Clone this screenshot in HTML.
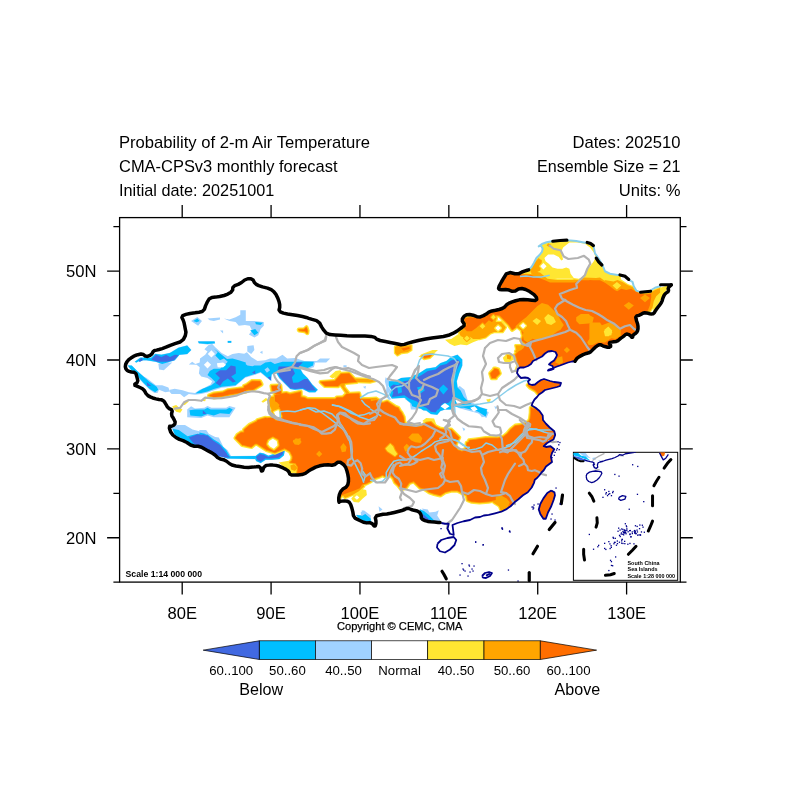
<!DOCTYPE html>
<html><head><meta charset="utf-8"><title>Probability of 2-m Air Temperature</title>
<style>html,body{margin:0;padding:0;background:#fff;width:800px;height:800px;overflow:hidden}</style></head>
<body>
<svg width="800" height="800" viewBox="0 0 800 800" style="position:absolute;left:0;top:0;font-family:'Liberation Sans',sans-serif">
<rect width="800" height="800" fill="#fff"/>
<defs><clipPath id="land">
<path d="M125,365.62 L127.5,360.62 L132.5,356.88 L136.25,355 L142.5,353.75 L146.25,356.88 L151.25,355 L153.75,350.62 L157.5,350 L163.75,348.12 L172.5,344.38 L182.5,341.25 L186.25,333.75 L185,327.5 L183.75,321.25 L181.25,316.25 L187.5,313.75 L197.5,312.5 L203.75,311.25 L206.25,303.75 L210,297.5 L217.5,297 L226.25,295 L232.5,291.25 L233,286.25 L240,283.75 L246.25,278.75 L252.5,278.75 L255,283.75 L260,286.25 L270,288.75 L275,292.5 L278.75,300 L280,306.25 L278.75,311.25 L285,313.75 L295,315 L305,317 L310,318.75 L318.75,321.25 L322.5,328.75 L327.5,334.5 L337.5,335 L350,336 L362,336 L374,336.5 L377.5,340 L388,342 L396.25,343.75 L402.5,345 L410,342.5 L422.5,339.5 L435,337.5 L446.25,336.25 L455,332.5 L461.25,328 L465,325 L461.5,320 L465,315 L471.25,314.4 L478.75,317.5 L485,315 L490,311.25 L497.5,310 L503.75,308 L507.5,303.75 L513.75,301.25 L521.25,299.4 L530,300 L536.9,300.6 L536.25,296.25 L527.5,290 L520,288 L513.75,291.9 L507.5,289.4 L500,290 L498.1,288 L502.5,280 L507.5,271.9 L517.5,274.4 L523,271.5 L528.6,269.8 L528.6,269.8 L531.7,266.7 L534,262.8 L536.4,258 L539.5,255 L541.9,251.9 L542.7,248.75 L541,245.6 L538.75,246.4 L541.9,244 L546.6,242.2 L552,241.25 L552.8,241.25 L566.9,240.2 L567.7,240.3 L576.25,241 L582.5,242.2 L585.6,242.8 L587.2,242.5 L593.4,245.6 L593.75,247.2 L595,253.4 L596.25,255 L598.75,258.75 L602.5,265 L605,271.25 L610,273.75 L617.5,275 L620,275 L625,276.25 L628.75,279.4 L630,280.6 L632.5,281.9 L633.75,286.25 L636.25,290.6 L640,291.9 L640.6,292.25 L650.6,291.25 L651.25,290 L655,287.75 L660,286.25 L660.6,284.75 L671.25,284.75 L671.25,285 L668,287.75 L668.75,291.25 L665,293.75 L663,297.5 L661.9,301.9 L658.75,306.25 L656.25,309.4 L653.75,313.75 L650.6,314 L647.5,313 L643.75,312.75 L640,315 L635.6,316.25 L636.25,320 L638,325 L638,330 L636.25,333 L633,335 L632.5,338 L630,335 L626.25,333.75 L623.75,336.25 L620,338.75 L617.5,341.25 L612.5,342 L608.75,342.5 L611.25,346.25 L608.75,347.5 L603.75,346.25 L600,344.4 L596.25,346.25 L592.5,350 L590,352.5 L585,353.75 L577.5,357.5 L575,361.25 L572,361.5 L568,362.5 L564,364 L560,365.5 L557,366.5 L554.5,367.5 L552,368.5 L549,369.5 L548,370.5 L551,369.8 L553.5,368.8 L552.5,366 L549,364.5 L551,362.5 L554,360.5 L556,357.5 L557,355 L555.5,352 L552,351 L548,351.5 L545,353.5 L542,356.5 L539,358 L536,359.5 L533,361 L531,364 L528,366 L524,367.5 L520,367.5 L518,369 L517,373 L519,376 L521,378 L525,377.5 L528,378 L530,379.5 L528,381.5 L529,384 L532,385 L535,384.5 L538,382 L541,380 L544,379 L547,380 L550,381 L554,382 L558,382.5 L561,383 L560,386 L557,387 L553,388 L549,389 L545,390 L542,392.5 L539,394.5 L537,397 L534.5,399.5 L532.5,403 L531.7,405.5 L535.6,407.8 L539.5,411 L542.7,415.6 L543,420 L546,423.75 L549.75,427.5 L554.25,431.25 L555.2,435 L553.5,439.5 L550.5,441 L546.75,443.25 L543.75,446.25 L546,447 L550.5,446.25 L554.25,449.25 L552,453 L550.9,456.75 L552,462 L549,464.25 L546,466.5 L543.75,470.25 L541.5,472.5 L539.25,475.5 L537,478 L534.8,479.7 L534,482.8 L531.7,487.5 L527.8,492.2 L523,495.3 L518.4,499.2 L514.5,502.3 L510.6,506.25 L506,509.4 L501.25,511.7 L495,513.3 L488.75,514.8 L483.75,515.5 L480,517 L475,517.5 L470,520 L463.75,521.25 L457.5,523 L452.5,525 L453.75,535 L450,533.75 L447.5,528.75 L448.75,523.75 L445,523.75 L441.25,523 L440,522.5 L432.5,522 L426.25,521.25 L421.25,518.75 L421.25,515 L418.75,511.25 L412.5,510 L407.5,508 L403.75,510 L396.25,512 L388.75,513.75 L381.25,514.5 L375,516.25 L376.25,522.5 L375,527 L371.25,522.5 L365,523 L358.75,520 L353.75,517.5 L352.5,510 L350,502.5 L346.25,500.75 L340,501.25 L338.75,502.5 L338.75,496.25 L341.25,490 L347.5,486.25 L348.75,480 L347.5,472.5 L345,465.5 L338.75,461.25 L333.75,465.5 L326.25,464.5 L317.5,466.25 L310,470 L303.75,474.5 L296.25,475 L290,475 L288.75,471.25 L285,468.75 L277.5,465.5 L271.25,465 L264.5,465.5 L262,472.5 L260,466.25 L255,467 L246.25,467.5 L237.5,466.25 L231.25,465 L225,460 L218.75,458.75 L213.75,453.75 L206.25,450 L200,446.25 L192.5,446.25 L185,441.25 L177.5,438.75 L171.25,433.75 L168.75,426.25 L172.5,426.25 L175.62,423.12 L173.75,418.75 L171.25,415 L172.5,410 L168.12,408.12 L165.62,403.75 L163.12,400 L157.5,399.38 L151.25,397.5 L146.88,395 L143.75,389.38 L138.75,386.88 L133.75,385 L138.12,381.88 L136.88,376.88 L135.62,372.5 L130,371.88 L126.25,370 L125,365.62Z"/>
<path d="M437.5,543.75 L441.25,540 L447.5,538 L453.75,537 L456.25,540 L454.5,545 L450,549.5 L445,552.5 L440,551.25 L437,547.5Z"/>
<path d="M551.25,490.6 L554.4,492.2 L555,495.3 L553.6,500 L551.25,506.25 L548,512.5 L545.8,518.75 L543.4,518.75 L540.3,514 L538.75,509.4 L540.3,504 L543.4,498.4 L547.3,493Z"/>
</clipPath>
<clipPath id="frame"><rect x="119.6" y="217.6" width="560.6999999999999" height="364.5"/></clipPath>
<clipPath id="inset"><rect x="573.4" y="452.3" width="104.30000000000007" height="127.99999999999994"/></clipPath>
</defs>
<g clip-path="url(#frame)">
<g clip-path="url(#land)" shape-rendering="auto">
<path d="M209.8,320.3 L213.8,321.1 L220.0,319.5 L220.0,317.5 L207.5,318.4ZM191.1,321.1 L198.1,325.8 L202.0,321.1 L197.3,316.9ZM223.1,333.6 L223.1,330.5 L220.0,330.5ZM198.8,343.5 L207.5,344.4 L211.8,343.9 L208.3,345.3 L204.4,349.2 L207.5,351.6 L205.2,354.7 L200.0,358.6 L199.7,362.5 L195.3,364.1 L192.2,361.7 L188.8,364.4 L196.6,364.8 L199.7,367.2 L198.9,373.4 L201.2,376.6 L207.5,378.1 L212.2,381.2 L210.6,384.4 L205.5,387.3 L199.7,389.8 L195.0,393.0 L188.8,392.2 L182.5,390.3 L174.7,388.8 L170.0,389.8 L169.8,391.0 L168.4,387.5 L162.2,385.2 L155.9,385.2 L146.6,378.1 L143.8,376.4 L137.4,370.9 L131.9,365.4 L127.8,365.3 L127.5,365.7 L130.7,369.7 L137.0,376.0 L138.5,377.7 L138.4,378.1 L143.4,383.6 L149.7,389.8 L154.4,393.0 L157.5,393.0 L159.1,389.8 L165.3,392.2 L169.8,391.4 L169.7,391.9 L171.6,394.1 L180.2,394.1 L184.1,397.2 L188.8,394.1 L195.0,394.8 L201.2,394.1 L207.5,392.5 L221.6,387.8 L229.4,387.0 L235.6,385.9 L245.2,377.8 L254.4,375.0 L260.6,372.7 L266.9,378.1 L271.6,381.2 L271.6,376.6 L271.8,374.9 L273.0,374.1 L276.1,373.0 L279.1,378.3 L290.2,389.3 L295.0,390.1 L302.8,389.4 L309.0,392.5 L315.4,392.5 L317.9,390.0 L317.9,389.7 L312.4,384.2 L307.7,377.9 L303.1,373.3 L300.5,368.8 L307.5,368.8 L313.8,367.2 L315.3,362.5 L326.2,362.5 L330.2,358.6 L320.0,358.6 L316.9,360.9 L304.4,360.9 L295.0,358.1 L287.2,358.6 L282.5,354.7 L276.2,358.6 L270.0,358.6 L265.3,360.2 L257.5,360.9 L251.2,357.0 L246.9,352.3 L244.2,353.7 L238.8,353.1 L232.5,353.9 L227.8,356.2 L221.6,353.1 L215.0,346.9 L212.3,343.9 L215.2,343.5 L214.6,341.1 L198.0,341.1 L197.8,341.5ZM207.8,353.9 L211.4,350.3 L215.0,353.9 L211.4,357.5ZM207.5,368.4 L203.9,364.8 L207.5,361.2 L211.1,364.8ZM223.1,367.5 L217.7,367.2 L216.9,363.3 L223.1,362.5 L226.2,364.8ZM174.9,360.4 L179.5,355.0 L187.3,354.2 L191.3,350.2 L191.4,349.8 L187.4,345.4 L187.1,345.3 L178.5,347.4 L169.9,352.8 L161.4,354.4 L155.1,353.6 L151.1,357.5 L140.2,357.5 L134.5,361.7 L136.4,362.8 L139.0,361.3 L139.6,362.0 L142.7,360.5 L146.5,360.5 L155.9,362.0 L159.9,363.5 L158.3,363.8 L159.1,369.5 L163.8,370.3 L172.3,362.5 L167.9,362.5ZM229.4,417.2 L235.6,407.8 L229.4,405.9 L226.2,407.8 L211.4,407.8 L207.5,405.9 L204.4,407.8 L195.0,408.6 L191.1,406.2 L187.2,409.4 L187.2,417.2 L201.2,418.0 L207.5,415.6 L213.8,417.2ZM174.7,435.1 L176.9,436.5 L177.5,437.5 L192.5,446.2 L220.0,457.0 L222.2,457.0 L227.5,458.8 L255.1,459.3 L256.1,461.2 L260.7,463.3 L265.7,460.1 L271.6,460.1 L279.5,459.3 L284.0,455.6 L285.1,450.3 L285.0,450.0 L281.2,448.2 L277.9,451.6 L273.0,453.9 L268.5,455.5 L263.9,453.2 L259.8,452.5 L255.6,455.7 L231.1,455.9 L227.5,450.0 L223.4,446.7 L218.8,437.5 L215.2,437.0 L208.8,433.8 L206.2,430.0 L199.4,430.0 L199.4,431.2 L192.5,429.5 L185.0,425.0 L177.5,425.0 L171.2,427.5 L172.4,429.4ZM250.4,330.2 L250.2,330.6 L251.1,331.7 L248.9,334.4 L254.4,337.5 L258.3,335.2 L260.6,328.9 L263.8,325.8 L263.8,321.9 L254.4,321.1 L245.8,321.1 L245.8,310.2 L240.3,310.2 L240.3,314.8 L235.6,317.2 L229.4,319.5 L223.9,318.4 L229.4,321.1 L235.6,321.9 L238.8,325.8 L244.9,325.1 L249.7,325.8 L251.7,329.8ZM231.4,342.9 L231.6,341.1 L231.4,340.8 L227.8,340.8 L227.5,341.0 L227.7,342.9ZM251.2,353.9 L254.4,350.0 L253.6,345.3 L247.3,346.1 L247.3,351.6ZM262.5,353.9 L262.5,350.8 L259.8,352.3ZM346.6,366.9 L346.6,365.3 L343.4,365.3 L343.4,366.9ZM365.3,389.1 L366.1,385.9 L363.0,386.7ZM366.1,524.0 L367.4,525.3 L373.7,526.5 L374.0,526.3 L373.4,523.0 L372.3,522.5 L372.1,521.7 L371.1,521.2 L371.2,521.2 L371.1,518.7 L370.8,518.4 L370.8,515.6 L363.8,510.2 L363.0,510.7 L361.9,510.0 L361.7,511.7 L360.6,512.5 L361.2,515.3 L356.3,514.7 L356.0,515.1 L359.8,520.2ZM416.9,409.4 L416.1,407.9 L421.0,408.9 L423.1,410.4 L426.2,410.9 L430.8,414.3 L437.2,415.1 L440.5,411.2 L445.0,409.7 L451.3,409.7 L454.5,406.6 L457.5,407.3 L457.5,407.8 L477.8,413.3 L480.4,414.7 L479.4,414.8 L481.0,415.8 L481.7,417.2 L482.9,417.0 L483.3,417.2 L483.4,416.9 L484.1,416.7 L486.4,418.0 L488.8,412.5 L488.4,412.3 L488.8,411.7 L488.1,412.1 L486.8,410.9 L487.5,409.5 L487.3,409.1 L480.8,407.2 L467.7,400.0 L464.5,389.8 L459.8,385.9 L457.8,387.3 L457.0,381.3 L459.3,373.5 L462.5,365.7 L462.5,359.4 L457.5,354.4 L451.1,356.8 L446.4,360.7 L440.2,363.0 L435.5,366.9 L426.1,368.5 L419.9,372.4 L410.5,377.0 L401.2,377.8 L394.9,380.9 L389.4,380.9 L389.5,380.5 L385.6,377.3 L384.8,381.2 L386.4,387.5 L385.6,395.3 L388.8,400.0 L391.1,399.2 L387.5,393.8 L391.1,390.6 L388.0,385.9 L388.4,384.3 L388.5,386.1 L391.5,390.6 L388.5,393.8 L391.7,398.7 L404.3,398.0 L405.3,398.6 L404.4,398.8 L406.9,400.4 L409.9,402.9 L410.9,409.4ZM462.2,402.3 L457.5,404.7 L455.2,400.0 L459.8,399.2ZM440.3,406.2 L445.0,403.1 L449.7,406.2 L445.0,409.4ZM477.8,409.4 L473.9,411.7 L470.0,407.8 L474.7,406.2ZM494.2,406.2 L495.8,409.4 L497.3,407.0ZM463.8,431.2 L465.3,428.9 L462.2,427.3ZM378.6,506.2 L379.4,511.7 L382.5,509.4ZM429.4,512.5 L427.8,509.4 L421.6,508.6 L423.4,510.4 L419.9,509.1 L419.7,509.4 L419.7,515.7 L422.9,520.5 L429.2,524.5 L437.4,523.6 L438.8,525.0 L440.3,520.3 L437.2,515.6 L438.8,510.2 L435.6,511.7Z" fill="#a0d2ff" fill-rule="evenodd"/>
<path d="M199.7,321.1 L197.3,318.4 L193.4,321.1 L196.6,322.2ZM231.2,342.7 L231.2,341.1 L227.8,341.1 L227.8,342.7ZM198.9,343.3 L207.5,344.1 L215.0,343.3 L214.5,341.4 L198.1,341.4ZM162.2,364.1 L174.7,360.2 L179.4,354.7 L187.2,353.9 L191.1,350.0 L187.2,345.6 L178.6,347.7 L170.0,353.1 L161.4,354.7 L155.2,353.9 L151.2,357.8 L140.3,357.8 L134.8,361.7 L136.4,362.5 L139.1,360.9 L139.5,361.7 L142.7,360.2 L146.6,360.2 L155.9,361.7ZM235.6,385.2 L245.2,377.0 L254.8,374.1 L255.2,374.2 L255.2,373.9 L260.6,371.9 L270.8,380.5 L271.6,374.2 L276.2,372.7 L279.4,378.1 L290.3,389.1 L295.0,389.8 L302.8,389.1 L309.1,392.2 L315.3,392.2 L317.7,389.8 L312.2,384.4 L307.5,378.1 L302.8,373.4 L299.7,368.0 L307.5,368.0 L313.0,365.6 L313.8,361.7 L303.6,361.4 L295.0,361.7 L282.5,361.7 L274.7,364.1 L270.8,361.7 L265.3,362.5 L260.6,365.6 L254.4,365.6 L252.5,366.2 L247.5,365.6 L245.8,364.2 L245.8,362.5 L238.8,360.2 L232.5,358.6 L227.0,359.1 L217.7,351.6 L213.8,348.8 L217.7,352.3 L215.3,355.5 L220.0,360.2 L223.9,358.6 L227.8,361.7 L225.4,364.2 L226.2,364.8 L223.1,367.5 L221.6,367.4 L220.0,368.8 L213.8,368.8 L209.8,371.1 L207.5,375.0 L211.4,378.1 L215.3,382.0 L211.4,385.2 L202.8,388.8 L198.1,391.4 L195.5,393.4 L201.2,393.0 L207.5,391.4 L213.8,389.1 L221.6,386.7ZM270.0,370.3 L266.9,372.7 L264.5,369.5 L267.7,367.2ZM158.3,389.8 L156.7,386.7 L149.7,382.0 L137.2,371.1 L131.7,365.6 L127.8,365.6 L130.9,369.5 L137.2,375.8 L143.4,382.8 L149.7,389.1 L155.2,392.2ZM229.4,414.1 L232.8,409.4 L229.4,407.8 L226.2,409.4 L210.6,409.4 L207.5,407.8 L204.4,409.4 L195.0,409.4 L189.5,410.2 L190.3,415.6 L201.2,416.4 L207.5,414.1 L213.8,415.6 L220.0,413.3ZM216.2,455.0 L220.0,456.2 L222.7,456.8 L227.5,458.5 L255.0,459.0 L255.1,458.6 L256.2,460.9 L260.6,463.0 L265.6,459.8 L271.6,459.8 L279.4,459.1 L283.8,455.5 L284.8,450.3 L281.2,448.4 L278.1,451.9 L273.1,454.2 L268.4,455.8 L263.8,453.4 L259.8,452.8 L255.7,456.0 L230.0,456.2 L226.2,450.0 L218.8,442.5 L213.8,439.5 L207.5,434.5 L206.0,434.4 L205.0,433.8 L199.4,432.5 L199.4,433.9 L197.5,433.8 L187.5,436.2 L178.8,430.0 L172.5,428.8 L175.0,435.0 L185.0,441.2 L200.0,447.5 L213.8,453.8 L215.7,454.4ZM260.6,325.0 L263.0,322.7 L255.2,321.9 L255.9,324.2ZM258.3,332.8 L255.2,328.9 L250.5,330.5 L254.4,335.2ZM406.9,399.2 L405.9,399.2 L411.3,403.6 L412.2,406.2 L416.9,407.8 L421.1,408.7 L423.1,410.2 L426.3,410.6 L430.9,414.1 L437.2,414.8 L440.3,410.9 L445.0,409.4 L451.2,409.4 L454.4,406.2 L460.6,407.8 L463.8,407.8 L472.1,409.9 L470.0,407.8 L474.7,406.2 L477.8,409.4 L475.1,411.0 L477.0,411.3 L479.4,412.5 L485.6,416.4 L487.2,412.5 L486.2,411.9 L487.2,411.7 L486.4,410.9 L487.2,409.4 L479.4,407.0 L476.2,405.5 L474.2,405.2 L470.0,403.1 L463.8,396.9 L460.6,390.6 L457.5,387.5 L456.7,381.2 L459.1,373.4 L462.2,365.6 L462.2,359.4 L457.5,354.7 L451.2,357.0 L446.6,360.9 L440.3,363.3 L435.6,367.2 L426.2,368.8 L420.0,372.7 L410.6,377.3 L401.2,378.1 L395.0,381.2 L388.8,381.2 L388.8,385.9 L391.9,390.6 L388.8,393.8 L391.9,398.4 L404.4,397.7ZM440.3,406.2 L445.0,403.1 L449.7,406.2 L445.0,409.4ZM462.2,402.3 L457.5,404.7 L455.2,400.0 L459.8,399.2ZM428.6,514.8 L423.9,510.9 L420.0,509.4 L420.0,515.6 L423.1,520.3 L429.4,524.2 L437.2,523.4ZM360.0,520.0 L366.5,523.8 L367.5,525.0 L373.8,526.2 L373.1,523.1 L372.1,522.8 L371.9,521.9 L370.8,521.4 L370.8,518.8 L365.3,514.1 L361.9,516.1 L361.2,515.6 L356.2,515.0Z" fill="#00bfff" fill-rule="evenodd"/>
<path d="M178.6,355.0 L174.7,354.7 L170.0,357.0 L166.1,354.7 L161.4,357.0 L156.2,354.7 L151.2,359.4 L157.5,361.7 L166.9,361.7 L173.9,360.2ZM139.5,361.7 L142.7,360.2 L141.9,357.8 L138.8,360.2ZM255.2,370.3 L252.0,372.7 L255.2,374.2ZM227.8,378.4 L232.8,382.5 L235.9,381.6 L231.2,376.6 L235.9,373.4 L235.6,366.4 L230.9,365.6 L226.2,370.3 L220.0,370.3 L215.3,373.4 L220.0,378.1 L215.6,383.1 L220.0,385.9 L223.1,381.6ZM151.2,385.9 L146.6,382.0 L147.3,385.9ZM206.7,413.8 L202.8,410.2 L202.8,414.1ZM216.2,455.0 L220.0,456.2 L225.0,457.5 L230.0,457.5 L227.0,454.5 L227.0,453.8 L220.0,445.0 L212.5,440.0 L207.5,435.5 L204.9,435.2 L203.8,434.4 L201.3,434.7 L197.5,434.2 L188.8,437.5 L193.8,443.8 L206.2,448.8 L213.8,452.5ZM295.0,389.1 L302.8,388.3 L307.5,390.6 L316.1,390.6 L307.5,378.9 L304.4,378.9 L298.1,382.5 L293.1,382.8 L291.9,377.3 L295.0,373.4 L292.7,368.8 L298.9,366.4 L302.8,362.2 L296.6,362.5 L290.3,366.4 L278.6,366.4 L277.8,371.9 L279.4,376.6 L284.8,382.8 L290.3,388.3ZM270.8,376.6 L267.7,377.3 L270.8,380.5ZM409.1,398.4 L416.9,401.6 L420.0,404.7 L423.6,406.5 L423.9,407.0 L425.0,407.2 L426.2,407.8 L430.9,411.7 L435.6,412.5 L437.4,409.8 L438.8,409.4 L440.8,406.6 L440.3,406.2 L443.4,403.1 L448.1,403.1 L451.2,400.0 L454.4,393.8 L451.2,381.2 L460.6,362.5 L457.5,359.4 L451.2,360.2 L446.6,364.1 L440.3,365.6 L435.6,369.5 L427.8,371.1 L421.6,375.0 L412.2,379.7 L403.6,381.2 L398.1,385.2 L393.4,384.4 L390.3,386.7 L393.4,392.2 L391.9,396.9 L404.4,395.3ZM401.2,385.2 L402.0,392.2 L398.1,393.8 L397.3,386.7ZM443.4,384.4 L448.1,389.1 L443.4,394.5 L438.8,389.1ZM424.7,390.6 L420.0,393.8 L416.9,387.5 L423.1,385.9ZM278.6,457.8 L282.5,454.7 L283.8,450.8 L281.7,449.7 L278.6,453.1 L273.1,455.5 L268.4,457.0 L263.8,454.7 L259.8,453.9 L255.9,457.0 L257.5,460.2 L260.6,461.7 L265.3,458.6 L271.6,458.6ZM434.1,523.4 L424.7,515.6 L421.6,513.3 L421.6,517.2 L424.7,520.3 L429.4,523.4ZM363.8,520.6 L367.5,525.0 L373.8,526.2 L373.1,523.1 L367.5,521.2Z" fill="#4169e1" fill-rule="evenodd"/>
<path d="M307.3,325.3 L306.4,325.1 L305.5,325.4 L303.2,327.4 L298.8,327.5 L297.9,327.7 L297.3,328.2 L296.8,329.0 L296.7,329.8 L296.9,330.7 L297.7,331.9 L298.6,332.5 L304.2,333.3 L306.3,335.1 L307.2,335.3 L308.2,335.1 L308.9,334.5 L309.3,333.8 L309.7,330.5 L308.4,326.4ZM398.6,344.2 L394.4,345.8 L393.8,346.8 L393.9,353.5 L396.9,356.6 L397.9,356.6 L401.7,354.3 L407.9,353.5 L412.0,351.0 L412.5,350.5 L412.6,345.2 L412.3,344.6 L411.9,344.2 L403.6,344.9ZM332.5,378.4 L335.2,377.3 L333.9,378.9 L320.2,379.9 L319.4,380.3 L318.8,381.0 L318.6,381.8 L318.7,382.7 L319.2,383.6 L323.5,387.6 L324.5,388.1 L338.2,388.2 L339.1,387.9 L340.1,387.1 L344.4,393.1 L342.1,395.3 L336.5,395.4 L335.7,395.8 L334.4,397.0 L308.0,397.0 L305.1,395.6 L302.8,395.2 L302.7,391.3 L302.2,390.3 L301.4,389.8 L300.1,389.7 L290.1,392.1 L286.5,390.9 L283.1,391.3 L282.3,385.1 L281.9,384.3 L281.3,383.7 L280.1,383.4 L271.4,383.7 L270.4,384.1 L269.6,384.9 L269.4,385.9 L270.2,391.1 L270.7,392.1 L272.8,394.2 L272.5,395.4 L269.7,395.7 L269.0,396.3 L267.2,403.2 L270.3,409.5 L270.2,411.8 L272.5,414.9 L272.7,415.5 L272.0,415.9 L267.4,416.0 L265.0,415.8 L256.9,418.2 L255.9,418.8 L255.3,419.8 L248.5,423.1 L242.6,428.2 L242.1,429.1 L242.0,430.3 L240.3,430.5 L235.9,433.5 L233.5,437.4 L233.4,438.3 L233.8,439.3 L240.9,446.6 L241.9,447.1 L251.4,449.1 L252.5,448.7 L255.8,445.9 L256.6,445.9 L265.9,452.0 L274.8,454.7 L275.8,454.5 L284.4,450.7 L288.4,453.0 L290.3,456.8 L290.3,458.2 L289.7,459.7 L288.7,460.7 L278.6,462.5 L284.1,467.2 L288.8,473.4 L295.1,472.9 L295.2,478.6 L295.7,479.6 L296.6,480.2 L330.3,480.3 L330.3,500.2 L330.8,501.4 L331.9,502.1 L337.8,502.1 L338.7,501.5 L342.8,497.3 L344.2,499.0 L345.1,499.3 L353.4,495.8 L351.2,498.8 L353.8,501.9 L358.8,502.5 L362.5,498.8 L366.9,495.0 L366.2,490.0 L362.9,489.2 L365.3,487.0 L365.5,485.9 L366.9,485.6 L371.9,483.1 L372.6,482.4 L373.0,481.4 L375.5,480.2 L380.2,478.6 L382.5,477.5 L384.8,478.6 L385.6,478.8 L389.7,477.5 L391.6,479.4 L393.3,483.4 L396.5,486.6 L399.6,490.6 L400.6,491.2 L401.8,491.2 L407.1,489.4 L407.7,488.8 L410.5,484.7 L413.2,483.8 L419.0,489.4 L423.7,491.1 L428.5,494.2 L433.5,495.9 L439.8,497.5 L441.4,497.2 L445.9,494.2 L451.5,492.8 L457.0,492.8 L464.9,496.8 L465.6,500.7 L466.1,501.5 L466.8,502.0 L471.1,503.7 L479.3,504.5 L488.9,503.8 L492.2,503.1 L492.8,503.8 L498.0,507.1 L500.1,512.2 L500.6,512.7 L501.8,512.8 L506.3,510.0 L509.0,513.9 L510.2,514.7 L511.6,514.5 L533.5,503.5 L535.0,502.1 L535.0,521.9 L535.2,522.9 L535.7,523.5 L537.1,524.1 L557.5,524.1 L558.6,523.8 L559.4,523.0 L559.7,521.9 L559.6,486.9 L559.0,485.9 L557.9,485.3 L549.7,485.3 L568.5,464.0 L569.0,463.2 L569.0,430.9 L568.3,429.6 L538.4,404.4 L537.6,404.1 L536.7,404.1 L533.2,406.3 L530.8,405.6 L529.9,405.9 L529.2,406.5 L528.7,407.7 L528.7,412.4 L528.0,418.2 L527.3,419.8 L525.2,421.5 L521.1,422.8 L515.0,423.6 L514.2,423.9 L509.1,428.1 L505.9,432.0 L502.6,434.7 L497.8,436.1 L485.4,436.1 L479.1,436.9 L475.3,437.6 L468.5,438.3 L467.4,439.1 L467.0,440.4 L465.7,441.1 L465.0,441.8 L464.7,442.6 L464.0,447.3 L461.7,449.1 L459.1,448.2 L457.6,445.3 L461.1,438.3 L461.3,437.4 L461.1,436.6 L452.3,427.8 L451.4,427.5 L446.7,427.5 L441.0,426.8 L436.9,424.8 L436.0,423.8 L434.1,418.4 L426.2,418.0 L422.3,421.1 L423.3,421.4 L423.6,422.0 L420.8,424.4 L414.1,424.4 L406.4,421.8 L405.6,416.3 L403.1,411.4 L401.5,409.6 L400.0,406.7 L399.2,405.9 L396.5,405.1 L388.1,399.5 L386.8,399.4 L382.8,400.7 L382.4,400.2 L376.5,396.5 L368.8,397.0 L362.1,397.0 L361.1,392.7 L360.3,391.6 L359.0,391.2 L350.0,391.7 L345.8,386.6 L345.9,385.1 L357.3,383.9 L358.5,383.3 L370.3,383.7 L376.6,382.0 L377.2,381.1 L377.0,380.4 L376.6,380.0 L368.2,377.8 L355.5,377.3 L350.0,371.5 L348.9,371.3 L341.4,371.8 L340.3,370.3 L335.6,371.1 L329.4,376.6ZM280.5,416.5 L276.5,418.5 L274.0,412.0 L278.5,410.0ZM276.7,440.9 L277.5,445.3 L273.9,448.8 L270.0,446.6 L268.1,444.1 L269.2,440.9 L272.8,438.8ZM253.3,392.0 L262.6,386.2 L263.3,385.5 L263.6,384.6 L263.5,383.6 L261.7,380.1 L261.0,379.4 L259.8,379.1 L251.4,379.1 L245.6,383.2 L242.9,384.2 L242.2,385.1 L242.0,386.2 L227.4,388.2 L222.5,390.4 L213.2,391.6 L207.8,393.8 L207.1,394.7 L206.9,395.9 L207.3,396.9 L208.1,397.6 L213.1,399.3 L213.9,399.4 L223.5,398.3 L229.8,396.7 L239.2,395.1 L246.5,393.5 L247.3,393.0 L247.9,392.1 L248.3,392.0ZM201.2,400.8 L205.2,401.2 L205.9,398.8ZM267.7,400.0 L266.1,397.7 L261.4,401.6 L263.0,402.8ZM188.8,401.6 L186.4,400.0 L182.5,404.4 L184.8,405.0ZM172.3,406.2 L173.1,408.6 L176.2,411.7 L180.2,412.8 L182.5,409.4 L179.4,407.8 L176.2,405.0ZM445.0,339.8 L449.7,343.8 L454.4,346.1 L460.6,344.5 L466.9,345.3 L473.1,342.2 L478.3,340.3 L479.7,340.2 L486.1,338.6 L490.9,334.6 L494.2,333.2 L502.8,333.2 L503.5,333.0 L506.9,328.0 L507.1,327.3 L506.8,326.6 L502.9,321.9 L507.4,326.4 L510.4,331.0 L511.2,331.7 L512.1,331.9 L513.1,331.7 L517.0,329.1 L519.7,330.9 L520.9,335.7 L519.5,340.0 L519.4,341.0 L520.0,342.1 L521.8,343.4 L520.3,344.1 L515.2,344.1 L514.4,344.6 L514.1,345.5 L515.0,349.2 L513.9,350.8 L513.9,351.6 L514.4,352.5 L513.4,353.5 L513.1,354.6 L516.1,365.5 L514.7,369.8 L514.7,370.8 L515.4,372.0 L516.7,372.5 L542.1,372.5 L573.5,367.8 L607.3,357.8 L640.5,357.8 L641.7,357.0 L642.2,355.7 L642.2,318.6 L646.5,315.4 L649.2,312.2 L650.0,312.4 L650.8,312.1 L653.3,308.4 L653.1,311.2 L656.2,307.5 L660.0,301.2 L662.5,296.2 L665.6,291.2 L670.0,285.6 L665.0,286.2 L661.0,287.5 L660.4,287.0 L659.7,287.0 L654.5,288.9 L650.4,291.6 L645.0,292.2 L640.6,291.6 L636.3,289.4 L633.1,285.9 L628.0,283.9 L621.2,279.4 L620.8,279.3 L620.8,274.5 L604.4,269.1 L595.0,237.8 L537.2,239.4 L532.5,261.2 L522.4,272.4 L494.2,271.6 L493.2,271.8 L492.4,272.6 L492.0,273.8 L492.0,309.9 L488.0,310.4 L483.0,313.3 L473.9,315.3 L469.6,315.0 L462.6,316.9 L461.9,317.6 L461.6,318.5 L461.6,319.4 L462.3,320.7 L461.1,329.1 L458.0,332.2 L457.9,333.0 L458.4,334.1 L451.2,339.1ZM573.2,278.4 L572.3,278.8 L557.6,278.8 L554.7,278.4ZM578.8,278.8 L573.8,278.1 L570.6,273.8 L569.4,268.8 L566.2,267.5 L562.5,268.8 L557.5,268.8 L552.5,267.5 L548.8,263.8 L545.6,261.2 L544.4,258.1 L548.1,254.4 L553.8,254.4 L558.8,256.9 L561.2,260.6 L563.1,259.4 L561.2,251.9 L563.1,247.5 L569.4,242.5 L577.5,242.5 L585.0,243.8 L590.0,247.5 L593.8,252.5 L595.6,256.9 L593.8,261.2 L586.2,271.2 L583.8,276.2ZM497.0,320.6 L497.9,319.5 L497.9,317.6 L498.7,317.7 L501.7,320.8ZM523.1,328.4 L520.3,325.8 L523.1,323.1 L525.9,325.8ZM498.1,330.8 L495.3,328.1 L498.1,325.5 L500.9,328.1ZM543.4,269.4 L540.3,266.2 L543.4,263.1 L546.6,266.2ZM420.5,357.4 L423.4,359.9 L424.4,360.3 L430.2,359.1 L430.9,358.6 L434.3,355.2 L434.7,354.0 L434.5,352.9 L435.6,352.3 L438.0,350.0 L432.5,350.0 L421.5,354.2 L420.8,354.7 L420.2,355.6 L418.4,357.0 L420.3,357.0ZM512.5,355.0 L511.8,354.3 L507.5,353.1 L507.1,353.5 L505.9,353.8 L505.6,354.4 L505.6,355.1 L502.8,357.8 L504.4,361.7 L509.1,362.5 L513.8,359.4 L512.6,355.8ZM488.2,373.0 L488.2,374.1 L489.9,379.1 L490.7,380.0 L491.8,380.3 L495.9,380.3 L497.1,379.9 L497.7,379.2 L498.0,378.3 L501.4,374.8 L501.9,373.5 L501.7,372.6 L499.8,368.1 L498.9,367.5 L495.8,366.6 L493.8,366.6 L492.8,367.1 L492.3,367.8 L492.0,368.6 L488.6,372.0ZM491.1,399.2 L490.1,399.2 L490.3,398.4 L488.4,399.2 L486.4,399.2 L486.6,399.9 L486.4,400.0 L486.7,400.2 L487.2,401.6 L488.5,402.0 L488.8,402.3 L488.9,402.1 L489.5,402.3ZM561.6,380.9 L547.3,379.1 L543.0,376.2 L541.6,375.9 L531.4,379.4 L526.2,383.7 L525.7,384.5 L525.6,385.4 L526.2,386.6 L528.7,389.2 L534.2,392.3 L538.8,397.7 L539.6,398.2 L540.6,398.3 L541.4,398.0 L547.5,394.2 L564.3,389.6 L565.2,389.1 L565.9,387.9 L565.7,386.5 L562.3,381.4Z" fill="#ffe632" fill-rule="evenodd"/>
<path d="M307.0,326.6 L306.5,326.4 L305.9,326.5 L303.7,328.5 L298.6,328.7 L298.0,329.3 L298.0,330.0 L299.0,331.4 L304.7,332.2 L306.7,334.0 L307.5,334.1 L308.2,333.4 L308.5,330.7ZM403.6,346.1 L398.9,345.3 L395.0,346.9 L395.0,353.1 L397.3,355.5 L401.2,353.1 L407.5,352.3 L411.4,350.0 L411.4,345.3ZM349.3,372.6 L340.6,373.1 L334.5,380.0 L320.7,381.0 L319.9,381.5 L319.8,382.1 L320.0,382.7 L324.8,387.0 L338.1,387.0 L340.3,385.4 L346.0,393.3 L342.6,396.5 L336.8,396.5 L334.9,398.2 L307.7,398.2 L304.7,396.7 L301.6,396.3 L301.6,391.8 L301.0,390.9 L300.4,390.9 L290.0,393.3 L286.3,392.1 L282.1,392.7 L281.1,385.5 L280.8,384.8 L280.1,384.6 L271.1,385.1 L270.6,386.0 L271.4,391.0 L274.6,394.3 L274.1,394.5 L273.8,395.0 L273.9,396.4 L270.0,396.9 L268.4,403.1 L271.5,409.2 L271.2,411.2 L273.5,414.3 L274.6,416.9 L273.8,416.5 L272.3,417.1 L267.5,417.3 L265.1,417.0 L257.0,419.4 L256.1,420.8 L249.1,424.2 L243.6,428.9 L243.2,429.6 L243.2,431.5 L240.9,431.6 L236.9,434.2 L234.7,437.7 L234.7,438.6 L242.2,446.0 L243.6,446.1 L251.3,447.9 L251.9,447.6 L255.4,444.8 L256.9,444.8 L266.4,450.9 L267.2,450.9 L274.9,453.5 L284.4,449.4 L285.9,450.1 L289.3,452.1 L291.5,456.5 L291.5,458.4 L290.9,460.2 L289.1,462.0 L289.1,463.0 L289.8,463.5 L294.9,464.1 L297.1,467.4 L297.0,467.6 L294.2,464.1 L290.3,465.6 L291.1,469.5 L295.0,471.1 L296.9,468.6 L296.3,471.9 L296.3,478.2 L296.8,479.0 L297.3,479.1 L331.5,479.1 L331.5,500.0 L331.7,500.6 L332.2,501.0 L337.6,500.9 L342.5,495.8 L343.0,495.6 L345.0,498.1 L352.5,495.0 L358.8,491.2 L364.4,486.2 L363.5,485.1 L366.5,484.5 L371.2,482.1 L371.7,481.6 L371.8,480.7 L375.1,479.1 L379.7,477.5 L382.5,476.1 L385.7,477.6 L390.0,476.1 L392.6,478.7 L394.2,482.7 L397.4,485.8 L400.5,489.7 L401.0,490.0 L401.6,490.0 L406.4,488.4 L409.7,483.7 L413.5,482.4 L419.5,488.4 L424.2,490.0 L429.0,493.1 L433.8,494.7 L440.1,496.3 L440.8,496.2 L445.4,493.1 L451.4,491.6 L457.3,491.6 L466.0,496.0 L466.7,500.3 L467.3,500.9 L471.4,502.5 L479.4,503.3 L488.8,502.6 L492.7,501.7 L493.4,502.8 L498.9,506.2 L501.2,511.7 L506.7,508.4 L509.9,513.1 L510.5,513.5 L511.1,513.4 L533.0,502.4 L536.2,498.9 L536.2,521.9 L536.5,522.6 L537.2,522.9 L557.5,522.9 L558.3,522.4 L558.5,521.9 L558.5,487.2 L558.1,486.7 L557.6,486.5 L547.1,486.5 L567.8,462.8 L567.9,431.1 L567.5,430.5 L537.8,405.4 L536.7,405.4 L533.4,407.6 L531.1,406.8 L530.1,407.2 L529.9,407.8 L529.9,412.4 L529.2,418.5 L528.3,420.5 L525.8,422.5 L521.3,424.0 L514.8,424.9 L509.9,429.0 L506.8,432.9 L503.1,435.8 L498.0,437.3 L485.5,437.3 L479.3,438.1 L475.4,438.8 L468.8,439.4 L468.3,440.0 L468.2,441.2 L466.3,442.1 L466.0,442.6 L465.2,447.9 L462.0,450.4 L458.2,449.2 L456.3,445.3 L460.0,437.9 L460.0,437.1 L451.7,428.8 L446.6,428.7 L440.6,427.9 L436.2,425.7 L431.6,421.2 L431.1,420.9 L425.8,421.8 L421.2,425.6 L413.9,425.6 L405.3,422.7 L404.5,416.8 L402.1,412.0 L400.5,410.3 L398.9,407.2 L398.5,406.9 L396.0,406.3 L387.7,400.7 L387.0,400.6 L382.6,402.0 L381.1,401.3 L381.7,401.2 L376.2,397.7 L369.2,398.2 L361.3,398.2 L360.9,397.6 L360.0,393.1 L359.5,392.5 L349.5,392.9 L344.5,387.0 L344.9,384.0 L357.1,382.7 L357.6,382.5 L357.9,382.0 L370.0,382.5 L376.0,381.0 L368.0,379.0 L355.0,378.6ZM279.6,409.5 L281.7,416.3 L281.5,417.2 L277.0,419.6 L276.4,419.7 L275.4,419.0 L272.8,411.8 L273.4,411.0 L278.0,408.9 L278.7,408.8ZM278.7,445.1 L278.3,446.2 L274.6,449.7 L273.8,449.9 L269.2,447.5 L267.1,444.7 L266.9,443.9 L268.3,440.1 L272.2,437.7 L273.0,437.6 L277.7,440.2ZM395.0,456.2 L387.5,451.2 L385.6,448.4 L390.3,443.8 L393.1,446.4 L394.7,450.3 L397.3,453.9ZM260.3,380.4 L251.7,380.3 L246.1,384.3 L243.6,385.2 L243.2,385.7 L243.2,387.2 L227.6,389.3 L222.8,391.5 L213.5,392.8 L208.6,394.7 L208.1,395.2 L208.1,395.9 L208.7,396.5 L213.9,398.2 L223.2,397.1 L229.6,395.5 L239.0,393.9 L246.1,392.4 L246.7,391.9 L246.8,391.1 L248.2,390.8 L253.1,390.8 L262.2,385.0 L262.3,384.0 L260.7,380.8ZM532.5,264.4 L530.2,272.2 L531.2,272.6 L531.2,273.8 L533.0,274.7 L531.0,274.0 L520.0,273.5 L494.2,272.8 L493.5,273.1 L493.2,273.8 L493.2,311.0 L488.4,311.6 L483.5,314.4 L473.9,316.5 L469.9,316.2 L463.5,317.8 L463.0,318.1 L462.8,318.9 L463.5,320.5 L462.2,329.7 L459.1,332.8 L460.6,335.9 L463.5,337.4 L463.1,338.0 L463.2,338.8 L466.2,341.7 L466.7,341.9 L467.4,341.8 L470.5,338.9 L470.6,337.9 L469.5,336.8 L470.0,336.7 L473.1,339.1 L479.4,339.1 L485.6,337.5 L490.3,333.6 L494.2,331.9 L494.2,332.0 L502.8,332.0 L505.9,327.3 L501.2,321.9 L495.8,321.9 L495.8,320.0 L496.8,318.9 L496.5,317.9 L496.8,317.3 L496.5,316.5 L496.7,316.2 L499.2,316.6 L508.3,325.6 L511.7,330.6 L512.7,330.6 L516.9,327.6 L521.0,330.4 L520.9,331.2 L521.9,335.1 L522.3,335.6 L520.6,340.3 L520.6,340.9 L521.0,341.5 L524.9,344.0 L524.7,344.2 L523.8,343.8 L520.6,345.3 L515.3,345.3 L516.3,349.5 L515.0,351.2 L515.9,352.7 L514.5,354.1 L514.3,354.7 L515.9,359.7 L517.4,365.6 L515.9,370.2 L516.0,370.9 L516.6,371.3 L541.9,371.3 L573.3,366.6 L607.2,356.6 L640.0,356.6 L640.8,356.3 L641.0,355.6 L641.0,318.0 L645.7,314.5 L649.0,310.6 L650.0,311.2 L652.5,307.5 L653.8,301.2 L656.2,296.2 L660.2,292.5 L660.0,288.1 L655.0,290.0 L651.2,292.5 L651.2,292.8 L645.0,293.4 L640.3,292.8 L635.5,290.4 L632.5,286.9 L627.5,285.0 L622.5,281.9 L617.5,280.0 L613.5,281.5 L604.4,280.0 L605.4,281.3 L603.8,280.3 L600.0,277.5 L596.1,278.0 L583.7,277.6 L578.8,279.9 L574.1,279.4 L572.5,280.0 L557.5,280.0 L547.5,278.8 L540.0,272.5 L537.3,272.1 L540.3,270.6 L540.7,268.3 L539.3,266.9 L539.1,266.1 L539.4,265.5 L541.5,263.3 L541.9,261.2 L541.6,261.0 L541.9,260.0 L539.8,259.2 L538.8,258.1ZM493.4,319.5 L491.1,317.2 L493.4,314.8 L495.8,317.2ZM519.3,325.1 L522.4,322.2 L523.3,321.9 L523.9,322.3 L526.8,325.0 L527.1,326.0 L526.8,326.6 L523.9,329.3 L522.9,329.6 L522.3,329.3 L519.4,326.6 L519.1,325.8ZM485.3,326.2 L482.5,329.1 L479.7,326.2 L482.5,323.4ZM494.3,327.4 L497.4,324.5 L498.3,324.3 L498.9,324.6 L501.8,327.3 L502.1,328.3 L501.8,328.9 L498.9,331.7 L497.9,332.0 L497.3,331.7 L494.4,328.9 L494.1,328.2ZM469.7,338.3 L466.9,340.9 L464.1,338.3 L466.9,335.6ZM616.9,281.9 L621.2,285.6 L616.9,289.4 L612.5,285.6ZM555.9,321.9 L551.2,325.0 L546.6,323.4 L544.2,318.0 L548.1,314.1 L553.6,317.2ZM536.4,318.0 L541.1,321.1 L537.2,325.0 L532.5,321.1ZM604.4,329.7 L608.3,326.6 L612.2,330.5 L611.9,331.9 L612.5,332.5 L611.7,333.3 L611.4,335.2 L609.5,335.5 L608.8,336.2 L605.0,336.2 L603.8,331.2 L604.6,330.4ZM421.5,355.8 L421.4,356.4 L421.6,357.0 L424.1,359.0 L424.8,359.1 L429.9,357.9 L433.3,354.5 L433.5,353.7 L433.1,353.1 L432.5,352.9 L426.0,353.7 L422.0,355.3ZM511.4,355.5 L506.7,354.7 L507.2,359.1 L510.6,359.4ZM489.4,373.0 L489.3,373.7 L491.0,378.5 L491.3,379.0 L491.9,379.1 L496.3,379.0 L496.7,378.5 L496.8,377.8 L500.5,374.1 L500.7,373.4 L498.9,368.9 L495.8,367.8 L495.2,367.9 L494.1,367.8 L493.6,368.0 L493.3,368.5 L493.2,369.3ZM561.0,381.9 L546.9,380.3 L542.4,377.3 L541.8,377.1 L532.0,380.4 L527.1,384.5 L526.8,385.3 L527.0,385.8 L529.6,388.3 L535.0,391.4 L539.6,396.7 L540.4,397.1 L547.0,393.1 L564.4,388.3 L564.7,387.7 L564.6,387.0 L561.5,382.3ZM551.2,244.8 L548.1,243.3 L546.6,245.6 L549.7,247.2Z" fill="#ffa500" fill-rule="evenodd"/>
<path d="M306.4,327.3 L304.1,329.5 L298.9,329.7 L299.4,330.5 L305.2,331.2 L307.2,333.1 L307.5,330.8ZM403.6,350.8 L409.8,348.8 L409.1,346.9 L401.2,348.4ZM422.3,356.2 L424.7,358.1 L429.4,357.0 L432.5,353.9 L426.2,354.7ZM355.0,380.0 L349.0,373.5 L341.0,374.0 L335.0,381.0 L320.8,382.0 L325.0,386.0 L338.0,386.0 L341.0,383.5 L357.0,381.7ZM259.8,381.2 L252.0,381.2 L246.6,385.2 L244.2,385.9 L244.2,388.1 L227.8,390.3 L223.1,392.5 L213.8,393.8 L209.1,395.6 L213.8,397.2 L223.1,396.1 L229.4,394.5 L238.8,393.0 L245.8,391.4 L245.8,390.3 L248.1,389.8 L252.8,389.8 L261.4,384.4ZM271.6,385.9 L272.3,390.6 L276.2,394.5 L281.2,393.8 L280.2,385.6ZM343.0,397.5 L337.0,397.5 L335.3,399.2 L307.5,399.2 L304.4,397.7 L300.6,397.2 L300.6,391.9 L290.0,394.4 L286.2,393.1 L281.9,393.8 L274.7,395.3 L275.0,396.6 L275.0,401.2 L277.2,402.5 L279.6,404.9 L278.6,406.2 L279.9,407.6 L279.6,408.1 L280.5,409.1 L282.6,415.9 L282.7,416.9 L282.2,417.9 L281.5,418.5 L276.7,420.7 L275.8,420.6 L274.9,420.0 L273.8,417.5 L272.5,418.1 L268.1,418.1 L267.6,418.3 L265.3,418.0 L257.5,420.3 L256.7,421.7 L255.9,421.9 L249.7,425.0 L244.2,429.7 L244.2,432.5 L241.2,432.5 L237.5,435.0 L235.6,438.1 L242.5,445.0 L244.2,445.1 L244.2,445.3 L251.2,446.9 L255.0,443.8 L257.2,443.8 L266.9,450.0 L267.0,449.7 L267.5,450.0 L275.0,452.5 L284.4,448.3 L286.4,449.2 L290.1,451.4 L292.5,456.2 L292.5,458.6 L291.9,460.2 L292.1,460.4 L290.0,462.5 L295.5,463.3 L298.1,467.2 L297.3,471.9 L297.3,478.1 L332.5,478.1 L332.5,500.0 L337.2,500.0 L341.9,495.0 L354.4,490.6 L359.8,488.3 L362.2,484.4 L366.1,483.6 L370.8,481.2 L370.8,480.1 L374.7,478.1 L379.4,476.6 L382.5,475.0 L385.6,476.6 L390.3,475.0 L393.4,478.1 L395.0,482.0 L398.1,485.2 L401.2,489.1 L405.9,487.5 L409.1,482.8 L413.8,481.2 L420.0,487.5 L424.7,489.1 L429.4,492.2 L434.1,493.8 L440.3,495.3 L445.0,492.2 L451.2,490.6 L457.5,490.6 L466.9,495.3 L467.7,500.0 L471.6,501.6 L479.4,502.3 L488.8,501.6 L495.8,500.0 L495.8,496.7 L501.2,495.6 L506.7,498.4 L509.8,502.3 L507.5,507.8 L510.6,512.5 L532.5,501.6 L537.2,496.2 L537.2,521.9 L557.5,521.9 L557.5,487.5 L544.9,487.5 L566.9,462.5 L566.9,431.2 L537.2,406.2 L533.5,408.7 L530.9,407.8 L530.9,412.5 L530.2,418.8 L529.1,421.2 L526.2,423.4 L521.6,425.0 L515.3,425.8 L510.6,429.7 L507.5,433.6 L503.6,436.7 L498.1,438.3 L485.6,438.3 L479.4,439.1 L475.5,439.8 L469.2,440.3 L469.2,441.8 L466.9,443.0 L466.1,448.4 L462.2,451.6 L457.5,450.0 L455.2,445.3 L459.1,437.5 L451.2,429.7 L446.6,429.7 L440.3,428.9 L435.6,426.6 L430.9,421.9 L426.2,422.7 L421.6,426.6 L413.8,426.6 L404.4,423.4 L403.6,417.2 L401.2,412.5 L399.7,410.9 L398.1,407.8 L395.6,407.2 L387.2,401.6 L382.5,403.1 L376.2,400.0 L370.8,401.2 L370.8,399.2 L360.7,399.2 L360.0,398.0 L359.1,393.4 L346.6,394.1ZM422.3,438.3 L420.8,443.0 L415.3,442.2 L411.4,440.6 L408.3,437.5 L412.2,433.6 L418.4,433.6ZM294.7,444.5 L292.7,441.4 L293.1,440.9 L293.1,440.0 L294.4,439.7 L295.8,438.3 L298.1,438.8 L300.6,438.1 L300.6,440.5 L301.6,441.9 L300.6,443.0 L300.6,443.8 L300.0,443.8 L298.9,445.0ZM265.9,444.0 L267.1,440.2 L267.6,439.5 L271.9,436.8 L273.1,436.6 L277.8,439.0 L278.4,439.6 L278.9,440.6 L279.7,445.6 L279.2,446.7 L275.4,450.3 L274.7,450.8 L273.6,450.9 L268.6,448.2 L266.2,445.2ZM343.4,443.0 L346.6,446.9 L345.8,451.6 L341.9,452.3 L340.3,446.9ZM406.7,443.8 L409.1,446.1 L408.3,450.8 L405.2,451.6 L403.6,446.9ZM386.9,452.0 L384.7,448.9 L384.7,448.1 L389.6,443.0 L390.5,442.8 L394.0,445.8 L395.6,449.8 L398.2,453.4 L398.3,454.1 L398.1,454.6 L395.6,457.0 L394.8,457.2ZM316.1,453.9 L319.2,450.8 L322.3,453.9 L319.2,457.0ZM530.9,275.0 L494.2,273.8 L494.2,311.9 L488.8,312.5 L479.4,318.0 L470.0,317.2 L463.8,318.8 L466.9,325.0 L463.8,328.1 L466.9,331.2 L471.6,331.2 L476.2,328.1 L482.1,322.5 L483.1,322.6 L484.8,324.3 L488.8,320.3 L491.9,321.9 L493.6,320.5 L492.8,320.3 L490.4,317.9 L490.1,317.0 L492.7,314.1 L493.4,313.8 L494.1,314.1 L495.8,315.8 L495.8,315.1 L499.7,315.6 L509.1,325.0 L512.2,329.7 L516.1,327.1 L515.3,326.6 L520.0,321.9 L526.2,317.2 L537.2,306.2 L541.9,303.1 L548.1,304.7 L557.5,314.1 L560.6,320.3 L563.8,325.0 L560.6,329.7 L557.5,331.2 L552.5,335.0 L545.0,338.8 L537.5,340.0 L532.5,338.8 L527.5,342.5 L523.8,340.0 L523.0,336.3 L521.6,340.6 L526.2,343.8 L523.1,348.4 L521.6,349.5 L521.6,350.0 L520.0,350.5 L518.4,351.6 L515.3,354.7 L516.9,359.4 L518.4,365.6 L516.9,370.3 L541.9,370.3 L573.1,365.6 L607.0,355.6 L640.0,355.6 L640.0,317.5 L645.0,313.8 L648.1,310.0 L650.0,305.0 L651.2,297.5 L651.2,293.8 L645.0,294.4 L640.0,293.8 L635.0,291.2 L631.2,288.8 L626.2,290.0 L621.2,288.8 L617.2,291.3 L615.0,290.3 L610.0,286.2 L605.0,282.8 L600.0,280.3 L593.4,280.3 L589.4,280.0 L589.4,280.3 L580.5,280.3 L579.3,280.9 L578.0,280.9 L575.0,282.5 L550.0,282.5 L545.0,280.3ZM650.0,298.1 L645.0,302.2 L640.0,298.1 L645.0,294.4ZM623.8,305.6 L628.8,301.9 L633.8,305.6 L628.8,309.8ZM589.4,322.8 L588.8,323.4 L579.4,324.2 L576.2,321.1 L576.2,317.2 L580.9,314.1 L588.8,314.1 L590.1,315.4 L593.8,317.5 L592.5,322.5 L600.0,322.5 L601.8,325.2 L610.6,321.9 L616.9,325.0 L620.8,329.7 L620.8,335.9 L615.3,339.1 L611.3,338.3 L605.0,342.5 L597.5,342.5 L592.5,345.0 L589.4,345.0 L588.8,345.3 L587.2,342.2 L589.4,338.9ZM566.9,346.9 L570.0,350.0 L566.9,353.1 L563.8,350.0ZM562.2,356.2 L563.0,362.5 L559.1,364.1 L555.2,362.5 L557.5,357.8ZM495.8,318.8 L495.8,318.6 L495.0,319.3ZM522.8,334.7 L523.5,332.4 L521.9,330.9ZM494.2,369.8 L493.4,370.3 L490.3,373.4 L491.9,378.1 L495.8,378.1 L495.8,377.3 L499.7,373.4 L498.1,369.5 L495.8,369.1 L495.8,368.8 L495.4,369.0 L494.2,368.8ZM560.6,382.8 L546.6,381.2 L541.9,378.1 L532.5,381.2 L527.8,385.2 L530.2,387.5 L535.6,390.6 L540.3,396.1 L546.6,392.2 L563.8,387.5Z" fill="#ff6e00" fill-rule="evenodd"/>
<path d="M356.9,495.2 L359.4,497.5 L356.9,499.8 L354.4,497.5Z" fill="#ffffff" fill-rule="evenodd"/>
</g>
<path d="M360,398 L368,393 L376,391 L384,394.4 L388,397 L391,391 L396,387 L402,386 L409,382 L413,376 L417,368 L419.6,360 L424,355 L432,354 L440,355 L448,356 L454,358.4 L457.6,363 L455,372 L453,384 L454,400 L455,412 L454,416" fill="none" stroke="#87ceeb" stroke-width="1.5" stroke-linejoin="round"/>
<path d="M300,410 L308,408 L316,412 L324,411 L332,414 L337,419 L342,426 L347,434" fill="none" stroke="#87ceeb" stroke-width="1.5" stroke-linejoin="round"/>
<path d="M332,405 L340,406.4 L350,411 L360,417 L369,420 L377,416" fill="none" stroke="#87ceeb" stroke-width="1.5" stroke-linejoin="round"/>
<path d="M452,405 L460,406 L470,405 L480,404 L492,402 L500,396 L508,390 L516,385 L524,381 L528,380" fill="none" stroke="#87ceeb" stroke-width="1.5" stroke-linejoin="round"/>
<path d="M506,446 L516,442 L524,434 L530,428.4 L540,430 L552,430" fill="none" stroke="#87ceeb" stroke-width="1.5" stroke-linejoin="round"/>
<path d="M452,439 L458,441 L464,445 L470,450 L476,449 L482,447 L486,443 L492,445 L498,450 L504,448 L510,446 L516,440 L522,434 L528,430 L536,429 L544,432 L550,433.6" fill="none" stroke="#87ceeb" stroke-width="1.5" stroke-linejoin="round"/>
<path d="M520,276.56 L526.25,276.09 L532.5,276.88 L541.88,276.88 L549.69,275.31" fill="none" stroke="#87ceeb" stroke-width="1.5" stroke-linejoin="round"/>
<path d="M280.16,417.97 L280.16,411.72 L287.19,410.94 L295,411.72 L302.81,409.38 L309.06,407.81 L315.31,408.59 L321.56,412.5 L327.81,417.19 L334.06,421.88 L338.75,425.78 L345,431.25 L348.91,437.5 L350.47,445.31 L351.25,453.12 L352.81,459.38 L356.72,467.19 L359.84,473.44 L362.19,478.12 L363.75,482.81" fill="none" stroke="#87ceeb" stroke-width="1.5" stroke-linejoin="round"/>
<path d="M331.72,404.69 L338.75,406.25 L345,409.38 L351.25,413.28 L357.5,415.62 L363.75,414.84 L370,412.5" fill="none" stroke="#87ceeb" stroke-width="1.5" stroke-linejoin="round"/>
<path d="M361.41,400 L365.31,404.69 L370,407.81" fill="none" stroke="#87ceeb" stroke-width="1.5" stroke-linejoin="round"/>
<path d="M361.41,469.53 L365.31,475 L363.75,481.25" fill="none" stroke="#87ceeb" stroke-width="1.5" stroke-linejoin="round"/>
<path d="M370,480 L373.75,481.25 L377.5,482.5 L382.5,481.25 L386.25,477.5 L386.25,472.5 L390,466.25 L393.75,461.25 L398.75,460 L405,460 L411.25,458.12 L416.25,455 L421.25,451.25 L426.25,448.12 L431.25,445 L435,441.88 L441.25,440 L448.75,439.38 L452.5,439.38 L457.5,441.25 L462.5,445 L466.25,446.88 L470,447.5" fill="none" stroke="#87ceeb" stroke-width="1.5" stroke-linejoin="round"/>
<path d="M370,408.75 L373.75,411.25 L377.5,413.75 L381.25,416.25" fill="none" stroke="#87ceeb" stroke-width="1.5" stroke-linejoin="round"/>
<path d="M300,353 L308,350 L314,346 L320,343 L325,340 L326,336" fill="none" stroke="#b2b2b2" stroke-width="2.2" stroke-linejoin="round" stroke-linecap="round"/>
<path d="M336,337 L338,342 L342,347 L348,350 L354,353 L359,356 L358,361 L362,365 L369,368 L376,367 L384,366 L392,365 L397,367 L394,371 L390,376 L388,379" fill="none" stroke="#b2b2b2" stroke-width="2.2" stroke-linejoin="round" stroke-linecap="round"/>
<path d="M300,367 L308,369 L316,371 L324,370 L330,368 L335,367 L342,369 L350,371 L358,374 L366,377 L373,379 L379,382 L383,386 L385,391 L387,396 L380,400 L377,404 L379,410 L377,416 L374,420 L368,421 L364,424 L358,422 L352,419 L346,416 L340,413 L337,416 L338,422 L334,426 L328,429 L322,432 L314,429 L308,426 L300,425" fill="none" stroke="#b2b2b2" stroke-width="2.2" stroke-linejoin="round" stroke-linecap="round"/>
<path d="M388,379 L392,380 L398,381 L404,384 L409,389 L412,395 L418,397 L421,400 L418,406 L416,412 L412,418 L408,422 L414,424 L420,423" fill="none" stroke="#b2b2b2" stroke-width="2.2" stroke-linejoin="round" stroke-linecap="round"/>
<path d="M412,377 L415,370 L419,366 L418,372 L416,378 L420,382 L424,384 L422,389 L419,391 L420,397" fill="none" stroke="#b2b2b2" stroke-width="2.2" stroke-linejoin="round" stroke-linecap="round"/>
<path d="M412,377 L409,382 L409,389" fill="none" stroke="#b2b2b2" stroke-width="2.2" stroke-linejoin="round" stroke-linecap="round"/>
<path d="M424,380 L430,377 L438,374 L444,370 L450,367 L455,365 L458,362" fill="none" stroke="#b2b2b2" stroke-width="2.2" stroke-linejoin="round" stroke-linecap="round"/>
<path d="M424,384 L432,387 L438,390 L436,396 L430,399 L428,404 L420,406" fill="none" stroke="#b2b2b2" stroke-width="2.2" stroke-linejoin="round" stroke-linecap="round"/>
<path d="M455,365 L454,372 L452,380 L453,388 L454,396 L453,404 L452,410 L454,416 L449,420" fill="none" stroke="#b2b2b2" stroke-width="2.2" stroke-linejoin="round" stroke-linecap="round"/>
<path d="M337,416 L340,424 L345,432 L349,440" fill="none" stroke="#b2b2b2" stroke-width="2.2" stroke-linejoin="round" stroke-linecap="round"/>
<path d="M485,348 L490,343 L498,340 L506,341 L514,338 L520,339 L522,344 L528,346 L531,342.4" fill="none" stroke="#b2b2b2" stroke-width="2.2" stroke-linejoin="round" stroke-linecap="round"/>
<path d="M485,348 L483,356 L486,364 L482,372 L483,380 L481,388 L482,394 L478,399 L472,401 L466,402 L460,404 L454,405" fill="none" stroke="#b2b2b2" stroke-width="2.2" stroke-linejoin="round" stroke-linecap="round"/>
<path d="M482,394 L490,396 L498,394 L502,388 L508,384 L514,380 L518,376" fill="none" stroke="#b2b2b2" stroke-width="2.2" stroke-linejoin="round" stroke-linecap="round"/>
<path d="M498,358 L502,354 L509,353 L514,356 L515,361 L510,363 L504,363 L499,362 L498,358" fill="none" stroke="#b2b2b2" stroke-width="2.2" stroke-linejoin="round" stroke-linecap="round"/>
<path d="M515,361 L518,366 L517,370 L512,372 L510,367 L510,363" fill="none" stroke="#b2b2b2" stroke-width="2.2" stroke-linejoin="round" stroke-linecap="round"/>
<path d="M498,394 L500,400 L506,405 L514,406 L520,408 L526,405 L531,403" fill="none" stroke="#b2b2b2" stroke-width="2.2" stroke-linejoin="round" stroke-linecap="round"/>
<path d="M498,410 L506,410 L512,414 L520,418 L526,422 L529,426 L526,430 L528,436 L534,438 L540,437 L548,438 L552,434" fill="none" stroke="#b2b2b2" stroke-width="2.2" stroke-linejoin="round" stroke-linecap="round"/>
<path d="M400,424 L408,425 L416,426 L424,424 L432,428 L440,432 L446,435 L450,439 L454,445 L460,449 L466,450 L472,452 L480,451 L482,455 L484,462 L481,468 L482,474 L485,480 L488,488 L486,494" fill="none" stroke="#b2b2b2" stroke-width="2.2" stroke-linejoin="round" stroke-linecap="round"/>
<path d="M443,450 L442,458 L445,466 L443,474 L445,480 L450,482 L458,481 L461,486 L462,492 L468,494 L474,490 L480,491 L486,494 L492,496 L500,495 L506,493 L510,496 L512,500 L515,504" fill="none" stroke="#b2b2b2" stroke-width="2.2" stroke-linejoin="round" stroke-linecap="round"/>
<path d="M515,463.6 L512,468 L508,474 L505,480 L503,486 L501,492 L506,493" fill="none" stroke="#b2b2b2" stroke-width="2.2" stroke-linejoin="round" stroke-linecap="round"/>
<path d="M482,455 L488,452 L496,450 L504,449 L510,451 L516,450 L520,456" fill="none" stroke="#b2b2b2" stroke-width="2.2" stroke-linejoin="round" stroke-linecap="round"/>
<path d="M400,488 L408,490 L416,492 L422,490 L430,489 L438,488 L443,484 L445,480" fill="none" stroke="#b2b2b2" stroke-width="2.2" stroke-linejoin="round" stroke-linecap="round"/>
<path d="M462,492 L464,500 L460,508 L456,514 L452,520 L448,523 L447,528" fill="none" stroke="#b2b2b2" stroke-width="2.2" stroke-linejoin="round" stroke-linecap="round"/>
<path d="M400,488 L404,494 L410,498 L414,502 L412,506 L404,508" fill="none" stroke="#b2b2b2" stroke-width="2.2" stroke-linejoin="round" stroke-linecap="round"/>
<path d="M400,466 L408,464 L412,458 L420,460 L428,458 L434,460 L443,458" fill="none" stroke="#b2b2b2" stroke-width="2.2" stroke-linejoin="round" stroke-linecap="round"/>
<path d="M400,456 L406,460 L412,458" fill="none" stroke="#b2b2b2" stroke-width="2.2" stroke-linejoin="round" stroke-linecap="round"/>
<path d="M174.69,408.59 L180.16,407.81 L184.06,402.34 L188.75,400 L195,400 L201.25,400.78 L205.16,397.66 L213.75,398.44 L221.56,398.12 L229.38,396.88 L237.19,395.31 L245,392.19" fill="none" stroke="#b2b2b2" stroke-width="2.2" stroke-linejoin="round" stroke-linecap="round"/>
<path d="M245,392.5 L252.5,391.25 L258.75,391.88 L263.75,393.12 L268.12,393.75 L270,396.25 L268.12,400 L268.75,405 L268.12,410 L269.38,413.75 L272.5,416.88 L277.5,419.38 L285,421.25 L292.5,423.12 L300,424.38" fill="none" stroke="#b2b2b2" stroke-width="2.2" stroke-linejoin="round" stroke-linecap="round"/>
<path d="M268.12,393.75 L275,391.88 L280,390 L278.12,387.5 L280,383.75 L277.5,381.25 L275,377.5 L273.75,373.75 L277.5,371.88 L285,370.62 L290,370" fill="none" stroke="#b2b2b2" stroke-width="2.2" stroke-linejoin="round" stroke-linecap="round"/>
<path d="M278.59,371.09 L285.62,368.75 L291.88,367.19 L295,362.5 L296.56,356.25 L299.69,353.12 L307.5,350 L313.75,346.09 L320,342.97 L325.47,340.62 L326.25,336.72" fill="none" stroke="#b2b2b2" stroke-width="2.2" stroke-linejoin="round" stroke-linecap="round"/>
<path d="M291.88,367.19 L296.56,367.97 L302.81,368.75 L310.62,371.09 L320,373.44 L327.81,372.66 L332.5,368.75 L335.62,367.19 L341.88,368.75 L348.12,367.97 L354.38,370.31 L360.62,373.44 L366.88,375.78 L370,376.56" fill="none" stroke="#b2b2b2" stroke-width="2.2" stroke-linejoin="round" stroke-linecap="round"/>
<path d="M268.44,406.25 L270,412.5 L276.25,417.19 L284.06,420.31 L291.88,422.66 L299.69,424.22 L307.5,425.78 L313.75,427.34 L318.44,430.47 L321.56,433.59 L326.25,433.59 L330.94,432.81 L334.84,429.69 L337.19,423.44 L338.75,418.75 L337.19,414.84 L340.31,412.5 L345,413.28 L348.12,416.41 L352.81,420.31 L357.5,423.44 L363.75,424.22 L370,423.44" fill="none" stroke="#b2b2b2" stroke-width="2.2" stroke-linejoin="round" stroke-linecap="round"/>
<path d="M348.91,436.72 L351.25,442.19 L352.03,451.56 L351.25,458.59 L348.12,460.16 L347.34,464.84 L351.25,465.62 L354.38,461.72 L357.5,460.16 L360.62,463.28 L362.19,468.75 L361.41,473.44 L365.31,476.56 L370,473.44" fill="none" stroke="#b2b2b2" stroke-width="2.2" stroke-linejoin="round" stroke-linecap="round"/>
<path d="M549.7,245.6 L553.6,248.75 L560.6,250.3 L563.75,256.6 L568.4,259 L577.8,258 L584,255.8 L588.75,259.7 L590.3,263.6 L587.2,269 L584.8,275.3 L580,280 L576.25,284 L577,287.8 L570,290 L563.75,292.5 L559.8,294 L562,298.75 L565,300" fill="none" stroke="#b2b2b2" stroke-width="2.2" stroke-linejoin="round" stroke-linecap="round"/>
<path d="M565,300 L567,301.5 L573,304.7 L579.4,307.8 L585.6,310 L592,311 L598,314 L602.8,317 L607.5,320.3 L613.75,323.4 L618.4,327.3 L620,328.75 L625,326.25 L630,325 L633.75,328.75 L635.6,330" fill="none" stroke="#b2b2b2" stroke-width="2.2" stroke-linejoin="round" stroke-linecap="round"/>
<path d="M565,300 L557.5,304.7 L555,308.6 L557.5,314 L562,317 L566,321 L568.4,326.6 L570,329.7 L565.3,332 L557.5,334.4 L549.7,336.7 L541.9,339 L535.6,340.6 L531,342 L530,347 L532.5,351.6 L534.8,357 L536.4,360" fill="none" stroke="#b2b2b2" stroke-width="2.2" stroke-linejoin="round" stroke-linecap="round"/>
<path d="M531,342 L526.5,344.5" fill="none" stroke="#b2b2b2" stroke-width="2.2" stroke-linejoin="round" stroke-linecap="round"/>
<path d="M570,329.7 L576.25,332.8 L581,337.5 L584,342 L587.2,347 L589.5,350" fill="none" stroke="#b2b2b2" stroke-width="2.2" stroke-linejoin="round" stroke-linecap="round"/>
<path d="M370,413.75 L375,411.25 L378.75,408.75 L380,403.75 L381.25,400" fill="none" stroke="#b2b2b2" stroke-width="2.2" stroke-linejoin="round" stroke-linecap="round"/>
<path d="M378.75,408.75 L383.75,412.5 L388.75,415 L395,417.5 L398.75,422.5 L403.75,424.38 L410,423.75" fill="none" stroke="#b2b2b2" stroke-width="2.2" stroke-linejoin="round" stroke-linecap="round"/>
<path d="M435,431.25 L432.5,436.25 L428.75,440 L425,443.75 L421.25,446.25 L416.25,447.5 L411.25,446.25 L408.75,448.75 L407.5,452.5 L410,456.25 L413.75,458.75 L417.5,461.25 L413.75,463.75 L410,465 L406.25,464.38 L402.5,465 L400,462.5 L396.25,463.75 L393.75,467.5 L392.5,472.5 L395,476.25 L398.75,478.75 L401.25,483.75 L400.62,487.5 L401.88,492.5 L400,497.5 L401.25,500" fill="none" stroke="#b2b2b2" stroke-width="2.2" stroke-linejoin="round" stroke-linecap="round"/>
<path d="M451.88,438.75 L447.5,441.25 L442.5,442.5 L437.5,443.75 L435,446.25 L436.25,451.25 L439.38,455 L441.25,458.75 L442.5,462.5 L441.25,467.5 L443.12,471.25 L440,473.75 L441.88,477.5" fill="none" stroke="#b2b2b2" stroke-width="2.2" stroke-linejoin="round" stroke-linecap="round"/>
<path d="M443.75,420 L447.5,421.25 L450,425 L446.25,427.5 L450,431.25 L451.88,438.75" fill="none" stroke="#b2b2b2" stroke-width="2.2" stroke-linejoin="round" stroke-linecap="round"/>
<path d="M519.75,420 L522.75,423 L525.75,426 L524.25,429.75 L523.5,432.75 L526.13,435 L527.25,438 L532.5,438.75 L535.5,439.5 L540,440.25 L543,441.75 L546,440.25 L547.5,437.25 L549,433.5 L552,433.5 L555,433.88" fill="none" stroke="#b2b2b2" stroke-width="2.2" stroke-linejoin="round" stroke-linecap="round"/>
<path d="M526.88,424.5 L528.38,423 L530.25,424.13 L529.88,426.38 L528,426.75 L526.88,424.5" fill="none" stroke="#b2b2b2" stroke-width="2.2" stroke-linejoin="round" stroke-linecap="round"/>
<path d="M532.5,438.75 L531.75,442.5 L528.75,445.5 L527.25,448.5 L525,451.5 L521.25,453 L517.5,452.25 L513.75,450 L510,450 L504,450.75 L500.02,452.25" fill="none" stroke="#b2b2b2" stroke-width="2.2" stroke-linejoin="round" stroke-linecap="round"/>
<path d="M521.25,453 L520.5,456.75 L523.5,459.75 L524.25,463.5 L521.25,465 L519,465.9" fill="none" stroke="#b2b2b2" stroke-width="2.2" stroke-linejoin="round" stroke-linecap="round"/>
<path d="M524.25,463.5 L527.25,466.5 L528,470.25 L531.75,471 L534.75,470.25 L538.5,471.75 L541.5,474 L546,475.13" fill="none" stroke="#b2b2b2" stroke-width="2.2" stroke-linejoin="round" stroke-linecap="round"/>
<path d="M549,441 L552.75,442.13 L556.5,441.75" fill="none" stroke="#b2b2b2" stroke-width="2.2" stroke-linejoin="round" stroke-linecap="round"/>
<path d="M370,473.5 L371.88,477.5 L376.25,482.5 L385,482.5 L388.5,477.5 L391.25,470 L393.75,465" fill="none" stroke="#b2b2b2" stroke-width="2.2" stroke-linejoin="round" stroke-linecap="round"/>
<path d="M453.75,397.5 L451.88,405 L453.75,412.5 L457.5,418.75 L462.5,422.5 L468.75,426.25 L476.25,426.88 L481.25,427.5 L483.75,431.25 L490,435 L496.25,435.62 L500,435 L501.88,438.75 L502.5,446.25 L503.12,451.25" fill="none" stroke="#b2b2b2" stroke-width="2.2" stroke-linejoin="round" stroke-linecap="round"/>
<path d="M444.38,420 L450,421.25 L447.5,425 L445,427.5 L446.25,432.5 L443.75,436.25 L440,438.75" fill="none" stroke="#b2b2b2" stroke-width="2.2" stroke-linejoin="round" stroke-linecap="round"/>
<path d="M497.5,406.25 L498.75,412.5 L496.25,416.25 L492.5,421.25 L495,426.25 L500,427.5 L501.25,432.5 L500,435" fill="none" stroke="#b2b2b2" stroke-width="2.2" stroke-linejoin="round" stroke-linecap="round"/>
<path d="M503.12,451.25 L507.5,452.5 L510,450 L515,445 L520,440 L525,435 L526.25,430 L527.5,424.38" fill="none" stroke="#b2b2b2" stroke-width="2.2" stroke-linejoin="round" stroke-linecap="round"/>
<path d="M453.75,397.5 L465,403.12 L473.75,401.25 L480,397.5" fill="none" stroke="#b2b2b2" stroke-width="2.2" stroke-linejoin="round" stroke-linecap="round"/>
<path d="M575,361.25 L572,361.5 L568,362.5 L564,364 L560,365.5 L557,366.5 L554.5,367.5 L552,368.5 L549,369.5 L548,370.5 L551,369.8 L553.5,368.8 L552.5,366 L549,364.5 L551,362.5 L554,360.5 L556,357.5 L557,355 L555.5,352 L552,351 L548,351.5 L545,353.5 L542,356.5 L539,358 L536,359.5 L533,361 L531,364 L528,366 L524,367.5 L520,367.5 L518,369 L517,373 L519,376 L521,378 L525,377.5 L528,378 L530,379.5 L528,381.5 L529,384 L532,385 L535,384.5 L538,382 L541,380 L544,379 L547,380 L550,381 L554,382 L558,382.5 L561,383 L560,386 L557,387 L553,388 L549,389 L545,390 L542,392.5 L539,394.5 L537,397 L534.5,399.5 L532.5,403 L531.7,405.5 L535.6,407.8 L539.5,411 L542.7,415.6 L543,420 L546,423.75 L549.75,427.5 L554.25,431.25 L555.2,435 L553.5,439.5 L550.5,441 L546.75,443.25 L543.75,446.25 L546,447 L550.5,446.25 L554.25,449.25 L552,453 L550.9,456.75 L552,462 L549,464.25 L546,466.5 L543.75,470.25 L541.5,472.5 L539.25,475.5 L537,478 L534.8,479.7 L534,482.8 L531.7,487.5 L527.8,492.2 L523,495.3 L518.4,499.2 L514.5,502.3 L510.6,506.25 L506,509.4 L501.25,511.7 L495,513.3 L488.75,514.8 L483.75,515.5 L480,517 L475,517.5 L470,520 L463.75,521.25 L457.5,523 L452.5,525 L453.75,535 L450,533.75 L447.5,528.75 L448.75,523.75 L445,523.75 L441.25,523" fill="none" stroke="#00008b" stroke-width="1.8" stroke-linejoin="round"/>
<path d="M437.5,543.75 L441.25,540 L447.5,538 L453.75,537 L456.25,540 L454.5,545 L450,549.5 L445,552.5 L440,551.25 L437,547.5 L437.5,543.75" fill="none" stroke="#00008b" stroke-width="1.8" stroke-linejoin="round"/>
<path d="M551.25,490.6 L554.4,492.2 L555,495.3 L553.6,500 L551.25,506.25 L548,512.5 L545.8,518.75 L543.4,518.75 L540.3,514 L538.75,509.4 L540.3,504 L543.4,498.4 L547.3,493 L551.25,490.6" fill="none" stroke="#00008b" stroke-width="1.8" stroke-linejoin="round"/>
<path d="M482,576 L485,573 L489,572 L492,573 L490,576 L486,578 L483,577.6 L482,576" fill="none" stroke="#00008b" stroke-width="1.8" stroke-linejoin="round"/>
<path d="M486,575.6 L490,573.6" fill="none" stroke="#00008b" stroke-width="1.8" stroke-linejoin="round"/>
<path d="M528.6,269.8 L531.7,266.7 L534,262.8 L536.4,258 L539.5,255 L541.9,251.9 L542.7,248.75 L541,245.6 L538.75,246.4 L541.9,244 L546.6,242.2 L552,241.25 L552.8,241.25 L566.9,240.2 L567.7,240.3 L576.25,241 L582.5,242.2 L585.6,242.8 L587.2,242.5 L593.4,245.6 L593.75,247.2 L595,253.4 L596.25,255 L598.75,258.75 L602.5,265 L605,271.25 L610,273.75 L617.5,275 L620,275 L625,276.25 L628.75,279.4 L630,280.6 L632.5,281.9 L633.75,286.25 L636.25,290.6 L640,291.9 L640.6,292.25 L650.6,291.25 L651.25,290 L655,287.75 L660,286.25 L660.6,284.75 L671.25,284.75" fill="none" stroke="#87ceeb" stroke-width="2" stroke-linejoin="round"/>
<path d="M440,522.5 L438.12,522.38 L434.38,522.12 L430.94,521.81 L427.81,521.44 L425,520.62 L422.5,519.38 L421.25,517.81 L421.25,515.94 L420.62,514.06 L419.38,512.19 L417.19,510.94 L414.06,510.31 L411.25,509.5 L408.75,508.5 L406.56,508.5 L404.69,509.5 L401.88,510.5 L398.12,511.5 L394.38,512.44 L390.62,513.31 L386.88,513.94 L383.12,514.31 L379.69,514.94 L376.56,515.81 L375.31,517.81 L375.94,520.94 L375.94,523.62 L375.31,525.88 L374.06,525.88 L372.19,523.62 L369.69,522.62 L366.56,522.88 L363.44,522.25 L360.31,520.75 L357.5,519.38 L355,518.12 L353.44,515.62 L352.81,511.88 L351.88,508.12 L350.62,504.38 L349.06,502.06 L347.19,501.19 L344.69,500.88 L341.56,501.12 L339.69,501.56 L339.06,502.19 L338.75,500.94 L338.75,497.81 L339.38,494.69 L340.62,491.56 L342.81,489.06 L345.94,487.19 L347.81,484.69 L348.44,481.56 L348.44,478.12 L347.81,474.38 L346.88,470.75 L345.62,467.25 L343.44,464.44 L340.31,462.31 L337.5,462.31 L335,464.44 L331.88,465.25 L328.12,464.75 L324.06,464.94 L319.69,465.81 L315.62,467.19 L311.88,469.06 L308.44,471.12 L305.31,473.38 L301.88,474.62 L298.12,474.88 L294.69,475 L291.56,475 L289.69,474.06 L289.06,472.19 L287.81,470.62 L285.94,469.38 L283.12,467.94 L279.38,466.31 L275.94,465.38 L272.81,465.12 L269.56,465.12 L266.19,465.38 L263.88,467.25 L262.62,470.75 L261.5,470.94 L260.5,467.81 L258.75,466.44 L256.25,466.81 L252.81,467.12 L248.44,467.38 L244.06,467.19 L239.69,466.56 L235.94,465.94 L232.81,465.31 L229.69,463.75 L226.56,461.25 L223.44,459.69 L220.31,459.06 L217.5,457.5 L215,455 L211.88,452.81 L208.12,450.94 L204.69,449.06 L201.56,447.19 L198.12,446.25 L194.38,446.25 L190.62,445 L186.88,442.5 L183.12,440.62 L179.38,439.38 L175.94,437.5 L172.81,435 L170.62,431.88 L169.38,428.12 L169.69,426.25 L171.56,426.25 L173.28,425.47 L174.84,423.9 L175.15,422.03 L174.22,419.84 L173.12,417.81 L171.88,415.94 L171.56,413.75 L172.19,411.25 L171.41,409.53 L169.22,408.59 L167.5,407.03 L166.25,404.84 L165,402.81 L163.75,400.94 L161.72,399.85 L158.91,399.53 L155.94,398.91 L152.81,397.97 L150.16,396.88 L147.97,395.62 L146.1,393.6 L144.53,390.78 L142.5,388.75 L140,387.5 L137.5,386.41 L135,385.47 L134.84,384.22 L137.03,382.66 L137.81,380.63 L137.19,378.13 L136.56,375.78 L135.94,373.6 L134.22,372.35 L131.41,372.03 L129.06,371.41 L127.19,370.47 L125.94,368.9 L125.31,366.72 L125.62,364.37 L126.88,361.87 L128.75,359.69 L131.25,357.81 L133.44,356.41 L135.31,355.47 L137.81,354.69 L140.94,354.06 L143.44,354.53 L145.31,356.1 L147.5,356.41 L150,355.47 L151.88,353.9 L153.12,351.72 L154.69,350.47 L156.56,350.15 L159.06,349.53 L162.19,348.59 L165.94,347.19 L170.31,345.31 L175,343.6 L180,342.03 L183.44,339.38 L185.31,335.62 L185.94,332.19 L185.31,329.06 L184.69,325.94 L184.06,322.81 L183.12,320 L181.88,317.5 L182.81,315.62 L185.94,314.38 L190,313.44 L195,312.81 L199.06,312.19 L202.19,311.56 L204.38,309.38 L205.62,305.62 L207.19,302.19 L209.06,299.06 L211.88,297.38 L215.62,297.12 L219.69,296.5 L224.06,295.5 L227.81,294.06 L230.94,292.19 L232.62,290 L232.88,287.5 L234.75,285.62 L238.25,284.38 L241.56,282.5 L244.69,280 L247.81,278.75 L250.94,278.75 L253.12,280 L254.38,282.5 L256.25,284.38 L258.75,285.62 L262.5,286.88 L267.5,288.12 L271.25,289.69 L273.75,291.56 L275.94,294.38 L277.81,298.12 L279.06,301.56 L279.69,304.69 L279.69,307.5 L279.06,310 L280.31,311.88 L283.44,313.12 L287.5,314.06 L292.5,314.69 L297.5,315.5 L302.5,316.5 L306.25,317.44 L308.75,318.31 L312.19,319.38 L316.56,320.62 L319.69,323.12 L321.56,326.88 L323.75,330.19 L326.25,333.06 L330,334.62 L335,334.88 L340.62,335.25 L346.88,335.75 L353,336 L359,336 L365,336.12 L371,336.38 L374.88,337.38 L376.62,339.12 L380.12,340.5 L385.38,341.5 L390.06,342.44 L394.19,343.31 L397.81,344.06 L400.94,344.69 L404.38,344.38 L408.12,343.12 L413.12,341.75 L419.38,340.25 L425.62,339 L431.88,338 L437.81,337.19 L443.44,336.56 L448.44,335.31 L452.81,333.44 L456.56,331.38 L459.69,329.12 L462.19,327.25 L464.06,325.75 L464.12,323.75 L462.38,321.25 L462.38,318.75 L464.12,316.25 L466.56,314.85 L469.69,314.55 L473.12,315.17 L476.88,316.73 L480.31,316.88 L483.44,315.62 L486.25,314.06 L488.75,312.19 L491.88,310.94 L495.62,310.31 L499.06,309.5 L502.19,308.5 L504.69,306.94 L506.56,304.81 L509.06,303.12 L512.19,301.88 L515.62,300.79 L519.38,299.86 L523.44,299.55 L527.81,299.85 L531.73,300.15 L535.17,300.45 L536.74,299.51 L536.41,297.34 L534.06,294.69 L529.69,291.56 L525.62,289.5 L521.88,288.5 L518.44,288.98 L515.31,290.92 L512.19,291.27 L509.06,290.02 L505.62,289.55 L501.88,289.85 L499.52,289.5 L498.58,288.5 L499.2,286 L501.4,282 L503.75,277.98 L506.25,273.92 L510,272.52 L515,273.77 L518.88,273.67 L521.62,272.23 L524.4,271.07 L527.2,270.23 L528.6,269.8" fill="none" stroke="#000" stroke-width="3.5" stroke-linejoin="round" stroke-linecap="round"/>
<path d="M671.25,284.75 L671.25,284.81 L671.25,284.94 L670.44,285.69 L668.81,287.06 L668.19,288.62 L668.56,290.38 L667.81,291.88 L665.94,293.12 L664.5,294.69 L663.5,296.56 L662.73,298.6 L662.17,300.8 L661.11,302.99 L659.54,305.16 L658.12,307.04 L656.88,308.61 L655.62,310.49 L654.38,312.66 L652.96,313.81 L651.39,313.94 L649.83,313.75 L648.27,313.25 L646.56,312.94 L644.69,312.81 L642.81,313.31 L640.94,314.44 L638.9,315.31 L636.7,315.94 L635.76,317.19 L636.09,319.06 L636.69,321.25 L637.56,323.75 L638,326.25 L638,328.75 L637.56,330.75 L636.69,332.25 L635.44,333.5 L633.81,334.5 L632.88,335.75 L632.62,337.25 L631.88,337.25 L630.62,335.75 L629.06,334.69 L627.19,334.06 L625.62,334.38 L624.38,335.62 L622.81,336.88 L620.94,338.12 L619.38,339.38 L618.12,340.62 L616.25,341.44 L613.75,341.81 L611.56,342.12 L609.69,342.38 L609.38,343.44 L610.62,345.31 L610.62,346.56 L609.38,347.19 L607.5,347.19 L605,346.56 L602.81,345.79 L600.94,344.86 L599.06,344.86 L597.19,345.79 L595.31,347.19 L593.44,349.06 L591.88,350.62 L590.62,351.88 L588.75,352.81 L586.25,353.44 L583.12,354.69 L579.38,356.56 L576.88,358.44 L575.62,360.31 L575,361.25" fill="none" stroke="#000" stroke-width="3.5" stroke-linejoin="round" stroke-linecap="round"/>
<path d="M552.8,241.25 L560,240.5 L566.9,240.2" fill="none" stroke="#000" stroke-width="3.2" stroke-linecap="round"/>
<path d="M587.2,242.5 L590.5,243.5 L593.4,245.6" fill="none" stroke="#000" stroke-width="3.2" stroke-linecap="round"/>
<path d="M596.25,258.1 L598.75,261.9 L601.9,265" fill="none" stroke="#000" stroke-width="3.2" stroke-linecap="round"/>
<path d="M620,275 L625,276.25 L628.75,279.4" fill="none" stroke="#000" stroke-width="3.2" stroke-linecap="round"/>
<path d="M640.6,292.25 L650.6,291.25" fill="none" stroke="#000" stroke-width="3.2" stroke-linecap="round"/>
<path d="M660.6,284.75 L671.25,284.75" fill="none" stroke="#000" stroke-width="3.2" stroke-linecap="round"/>
<path d="M562.5,495 L561.25,503.75" fill="none" stroke="#000" stroke-width="3.2" stroke-linecap="round"/>
<path d="M555,522.5 L549.25,529.5" fill="none" stroke="#000" stroke-width="3.2" stroke-linecap="round"/>
<path d="M537.5,546.25 L533,553.75" fill="none" stroke="#000" stroke-width="3.2" stroke-linecap="round"/>
<path d="M529.25,572.5 L529.25,580.5" fill="none" stroke="#000" stroke-width="3.2" stroke-linecap="round"/>
<path d="M442,571.25 L444,574.5 L446.25,578.75" fill="none" stroke="#000" stroke-width="3.2" stroke-linecap="round"/>
</g>
<rect x="573.4" y="452.3" width="104.30000000000007" height="127.99999999999994" fill="#fff" stroke="#000" stroke-width="1"/>
<g clip-path="url(#inset)">
<path d="M579.75,453 L585.75,453 L588.75,456.75 L591,458.25 L587.25,457.5 L582.75,455.63Z" fill="#a0d2ff"/>
<path d="M573,453 L578.25,453 L581.25,455.63 L585.75,456.38 L588,458.63 L590.25,460.5 L585,459 L580.5,457.13 L573,455.25Z" fill="#00bfff"/>
<path d="M573,455.63 L579.75,457.13 L585,459.38 L588.75,461.25 L584.25,461.25 L579,459.38 L573,457.5Z" fill="#4169e1"/>
<path d="M592.13,457.88 L595.5,457.13 L595.88,459.75 L593.25,459.75Z" fill="#a0d2ff"/>
<path d="M598.13,460.13 L600.75,460.5 L600,461.63Z" fill="#a0d2ff"/>
<path d="M659.51,452.25 L665.3,452.25 L664.27,455.65 L661.55,456.85Z" fill="#ff6e00"/>
<path d="M592.5,460.5 L595.5,458.25 L598.5,456.38 L601.5,454.88 L604.5,453.38" fill="none" stroke="#b4b4b4" stroke-width="1.2" stroke-linejoin="round"/>
<path d="M619.5,455.63 L624,456" fill="none" stroke="#b4b4b4" stroke-width="1.2" stroke-linejoin="round"/>
<path d="M594.75,470.1 L599.63,469.65" fill="none" stroke="#b4b4b4" stroke-width="1.2" stroke-linejoin="round"/>
<path d="M584.25,459.75 L587.25,460.88 L590.25,461.63 L592.5,462 L594,462.75 L593.25,465 L594.38,467.63 L596.25,468.38 L597.75,467.25 L597.38,465 L598.13,462.75 L600,462 L603,461.25 L606,460.13 L609,459.38 L612,458.63 L615,457.5 L618,456 L619.5,454.65 L622.5,455.25 L625.5,453.75 L630,453 L636,452" fill="none" stroke="#00008b" stroke-width="1.3" stroke-linejoin="round"/>
<path d="M586.13,476.25 L586.88,474 L589.5,472.13 L592.5,471.38 L595.5,471 L598.5,471.38 L601.13,471.75 L601.88,473.25 L600.75,475.5 L599.25,477.75 L597,480 L594,481.88 L591.75,482.63 L588.75,481.5 L586.88,479.63 L586.13,476.25" fill="none" stroke="#00008b" stroke-width="1.3" stroke-linejoin="round"/>
<path d="M659.51,452.76 L661.55,456.85 L663.25,459.91 L665.81,458.21 L668.36,454.46" fill="none" stroke="#00008b" stroke-width="1.3" stroke-linejoin="round"/>
<path d="M619.03,497.33 L622.43,495.63 L625.83,496.48 L624.98,499.03 L620.73,500.39 L618.69,499.03 L619.03,497.33" fill="none" stroke="#00008b" stroke-width="1.3" stroke-linejoin="round"/>
<path d="M573.38,457.5 L575.25,458.63 L577.5,460.13 L580.5,461.25 L583.5,461.25" fill="none" stroke="#000" stroke-width="2" stroke-linecap="round"/>
<path d="M589.26,493.08 L591.81,496.48 L593.85,501.07" fill="none" stroke="#000" stroke-width="3" stroke-linecap="round"/>
<path d="M596.92,517.74 L597.26,522.84 L596.07,527.1" fill="none" stroke="#000" stroke-width="3" stroke-linecap="round"/>
<path d="M583.65,549.21 L583.65,554.31 L584.5,559.92" fill="none" stroke="#000" stroke-width="3" stroke-linecap="round"/>
<path d="M605.42,575.23 L610.52,574.72 L614.27,573.53" fill="none" stroke="#000" stroke-width="3" stroke-linecap="round"/>
<path d="M628.38,554.31 L632.64,550.06 L636.04,546.32" fill="none" stroke="#000" stroke-width="3" stroke-linecap="round"/>
<path d="M648.29,531.01 L650.5,526.24 L652.54,521.14" fill="none" stroke="#000" stroke-width="3" stroke-linecap="round"/>
<path d="M652.54,505.83 L652.54,500.73 L652.54,495.63" fill="none" stroke="#000" stroke-width="3" stroke-linecap="round"/>
<path d="M653.9,485.76 L656.45,481.17 L659,477.26" fill="none" stroke="#000" stroke-width="3" stroke-linecap="round"/>
<path d="M664.1,468.07 L667.51,463.31 L670.91,459.57" fill="none" stroke="#000" stroke-width="3" stroke-linecap="round"/>
<rect x="632" y="464.1" width="1.3" height="1.3" fill="#00008b"/>
<rect x="637.1" y="465.8" width="1.3" height="1.3" fill="#00008b"/>
<rect x="614.2" y="473.8" width="1.3" height="1.3" fill="#00008b"/>
<rect x="618.4" y="475.5" width="1.3" height="1.3" fill="#00008b"/>
<rect x="636.8" y="493.7" width="1.3" height="1.3" fill="#00008b"/>
<rect x="643.1" y="501" width="1.3" height="1.3" fill="#00008b"/>
<rect x="628.6" y="508.6" width="1.3" height="1.3" fill="#00008b"/>
<rect x="588.7" y="533.8" width="1.3" height="1.3" fill="#00008b"/>
<rect x="592.9" y="548.6" width="1.3" height="1.3" fill="#00008b"/>
<rect x="597.2" y="546.1" width="1.3" height="1.3" fill="#00008b"/>
<rect x="598" y="544.7" width="1.3" height="1.3" fill="#00008b"/>
<rect x="604" y="542.7" width="1.3" height="1.3" fill="#00008b"/>
<rect x="604" y="547.8" width="1.3" height="1.3" fill="#00008b"/>
<rect x="605.2" y="548.8" width="1.3" height="1.3" fill="#00008b"/>
<rect x="608.2" y="541" width="1.3" height="1.3" fill="#00008b"/>
<rect x="612.5" y="536.7" width="1.3" height="1.3" fill="#00008b"/>
<rect x="609.9" y="559.7" width="1.3" height="1.3" fill="#00008b"/>
<rect x="610.8" y="561" width="1.3" height="1.3" fill="#00008b"/>
<rect x="610.8" y="564.8" width="1.3" height="1.3" fill="#00008b"/>
<rect x="612" y="565.1" width="1.3" height="1.3" fill="#00008b"/>
<rect x="608.2" y="569.9" width="1.3" height="1.3" fill="#00008b"/>
<rect x="615" y="556.3" width="1.3" height="1.3" fill="#00008b"/>
<rect x="592.9" y="464.4" width="1.3" height="1.3" fill="#00008b"/>
<rect x="593.8" y="463.6" width="1.3" height="1.3" fill="#00008b"/>
<rect x="604" y="489.1" width="1.3" height="1.3" fill="#00008b"/>
<rect x="605.7" y="492" width="1.3" height="1.3" fill="#00008b"/>
<rect x="605.2" y="493.3" width="1.3" height="1.3" fill="#00008b"/>
<rect x="608.2" y="490.8" width="1.3" height="1.3" fill="#00008b"/>
<rect x="609.1" y="493" width="1.3" height="1.3" fill="#00008b"/>
<rect x="612" y="492" width="1.3" height="1.3" fill="#00008b"/>
<rect x="610.8" y="495" width="1.3" height="1.3" fill="#00008b"/>
<rect x="606.9" y="495" width="1.3" height="1.3" fill="#00008b"/>
<rect x="602.3" y="496.7" width="1.3" height="1.3" fill="#00008b"/>
<rect x="612.5" y="490.8" width="1.3" height="1.3" fill="#00008b"/>
<rect x="607.9" y="493.7" width="1.3" height="1.3" fill="#00008b"/>
<rect x="629.3" y="542.8" width="1.3" height="1.3" fill="#00008b"/>
<rect x="616.7" y="540.4" width="1.3" height="1.3" fill="#00008b"/>
<rect x="618.8" y="541.6" width="1.3" height="1.3" fill="#00008b"/>
<rect x="630.2" y="536.2" width="1.3" height="1.3" fill="#00008b"/>
<rect x="629.4" y="533.3" width="1.3" height="1.3" fill="#00008b"/>
<rect x="617.4" y="530.6" width="1.3" height="1.3" fill="#00008b"/>
<rect x="624" y="540.7" width="1.3" height="1.3" fill="#00008b"/>
<rect x="621.5" y="538.8" width="1.3" height="1.3" fill="#00008b"/>
<rect x="624.2" y="543" width="1.3" height="1.3" fill="#00008b"/>
<rect x="639.9" y="534.5" width="1.3" height="1.3" fill="#00008b"/>
<rect x="630.4" y="536.1" width="1.3" height="1.3" fill="#00008b"/>
<rect x="622.3" y="542.8" width="1.3" height="1.3" fill="#00008b"/>
<rect x="631.7" y="532.9" width="1.3" height="1.3" fill="#00008b"/>
<rect x="629.3" y="533.9" width="1.3" height="1.3" fill="#00008b"/>
<rect x="636.5" y="525.8" width="1.3" height="1.3" fill="#00008b"/>
<rect x="624.6" y="531.4" width="1.3" height="1.3" fill="#00008b"/>
<rect x="633.3" y="543.2" width="1.3" height="1.3" fill="#00008b"/>
<rect x="615.8" y="544.6" width="1.3" height="1.3" fill="#00008b"/>
<rect x="621" y="540.2" width="1.3" height="1.3" fill="#00008b"/>
<rect x="634.8" y="525.1" width="1.3" height="1.3" fill="#00008b"/>
<rect x="637" y="534.5" width="1.3" height="1.3" fill="#00008b"/>
<rect x="629" y="530" width="1.3" height="1.3" fill="#00008b"/>
<rect x="642.4" y="526.5" width="1.3" height="1.3" fill="#00008b"/>
<rect x="639.6" y="534.1" width="1.3" height="1.3" fill="#00008b"/>
<rect x="640.8" y="531.3" width="1.3" height="1.3" fill="#00008b"/>
<rect x="621" y="542.5" width="1.3" height="1.3" fill="#00008b"/>
<rect x="616.8" y="543" width="1.3" height="1.3" fill="#00008b"/>
<rect x="627.2" y="543.6" width="1.3" height="1.3" fill="#00008b"/>
<rect x="623.9" y="531.9" width="1.3" height="1.3" fill="#00008b"/>
<rect x="618.9" y="534.7" width="1.3" height="1.3" fill="#00008b"/>
<rect x="625" y="531.9" width="1.3" height="1.3" fill="#00008b"/>
<rect x="618" y="527.5" width="1.3" height="1.3" fill="#00008b"/>
<rect x="624.7" y="523.1" width="1.3" height="1.3" fill="#00008b"/>
<rect x="622.2" y="533.7" width="1.3" height="1.3" fill="#00008b"/>
<rect x="619.6" y="535.9" width="1.3" height="1.3" fill="#00008b"/>
<rect x="624" y="529.3" width="1.3" height="1.3" fill="#00008b"/>
<rect x="623.5" y="532.3" width="1.3" height="1.3" fill="#00008b"/>
<rect x="623" y="534.2" width="1.3" height="1.3" fill="#00008b"/>
<rect x="621.1" y="528.3" width="1.3" height="1.3" fill="#00008b"/>
<rect x="625.2" y="530" width="1.3" height="1.3" fill="#00008b"/>
<rect x="620.6" y="533.4" width="1.3" height="1.3" fill="#00008b"/>
<rect x="626.2" y="528.2" width="1.3" height="1.3" fill="#00008b"/>
<rect x="619.4" y="529.4" width="1.3" height="1.3" fill="#00008b"/>
<rect x="622.3" y="528.8" width="1.3" height="1.3" fill="#00008b"/>
<rect x="626" y="526.1" width="1.3" height="1.3" fill="#00008b"/>
<rect x="625.7" y="525.2" width="1.3" height="1.3" fill="#00008b"/>
<rect x="620.8" y="532.3" width="1.3" height="1.3" fill="#00008b"/>
<rect x="625.4" y="533.1" width="1.3" height="1.3" fill="#00008b"/>
<rect x="623.5" y="530.4" width="1.3" height="1.3" fill="#00008b"/>
<rect x="623" y="532" width="1.3" height="1.3" fill="#00008b"/>
<rect x="622.3" y="530.9" width="1.3" height="1.3" fill="#00008b"/>
<rect x="624" y="529.9" width="1.3" height="1.3" fill="#00008b"/>
<rect x="624.5" y="532" width="1.3" height="1.3" fill="#00008b"/>
<rect x="627.5" y="531.1" width="1.3" height="1.3" fill="#00008b"/>
<rect x="634" y="529.9" width="1.3" height="1.3" fill="#00008b"/>
<rect x="635.4" y="532.9" width="1.3" height="1.3" fill="#00008b"/>
<rect x="634.3" y="531.7" width="1.3" height="1.3" fill="#00008b"/>
<rect x="641.7" y="524.6" width="1.3" height="1.3" fill="#00008b"/>
<rect x="631.6" y="531.3" width="1.3" height="1.3" fill="#00008b"/>
<rect x="636.8" y="531.3" width="1.3" height="1.3" fill="#00008b"/>
<rect x="634" y="532.3" width="1.3" height="1.3" fill="#00008b"/>
<rect x="636.4" y="529.5" width="1.3" height="1.3" fill="#00008b"/>
<rect x="643.7" y="531.6" width="1.3" height="1.3" fill="#00008b"/>
<rect x="633.6" y="530.5" width="1.3" height="1.3" fill="#00008b"/>
<rect x="634.7" y="530.6" width="1.3" height="1.3" fill="#00008b"/>
<rect x="626.2" y="529.6" width="1.3" height="1.3" fill="#00008b"/>
<rect x="638.9" y="528" width="1.3" height="1.3" fill="#00008b"/>
<rect x="635.2" y="533" width="1.3" height="1.3" fill="#00008b"/>
<rect x="638.4" y="534.3" width="1.3" height="1.3" fill="#00008b"/>
<rect x="629.7" y="529.9" width="1.3" height="1.3" fill="#00008b"/>
<rect x="634.3" y="532.2" width="1.3" height="1.3" fill="#00008b"/>
<rect x="639.2" y="524.4" width="1.3" height="1.3" fill="#00008b"/>
<rect x="614.6" y="537.7" width="1.3" height="1.3" fill="#00008b"/>
<rect x="612.8" y="537.6" width="1.3" height="1.3" fill="#00008b"/>
<rect x="610.7" y="546.7" width="1.3" height="1.3" fill="#00008b"/>
<rect x="609.3" y="543.3" width="1.3" height="1.3" fill="#00008b"/>
<rect x="613.3" y="543.1" width="1.3" height="1.3" fill="#00008b"/>
<rect x="609.5" y="547.9" width="1.3" height="1.3" fill="#00008b"/>
<rect x="614.4" y="541.7" width="1.3" height="1.3" fill="#00008b"/>
<rect x="621.6" y="538.8" width="1.3" height="1.3" fill="#00008b"/>
<rect x="613.8" y="541.8" width="1.3" height="1.3" fill="#00008b"/>
<rect x="610.5" y="545.1" width="1.3" height="1.3" fill="#00008b"/>
</g>
<rect x="501.4" y="527.4" width="1.3" height="1.3" fill="#00008b"/>
<rect x="509" y="530.4" width="1.3" height="1.3" fill="#00008b"/>
<rect x="475" y="541.4" width="1.3" height="1.3" fill="#00008b"/>
<rect x="482.4" y="544.4" width="1.3" height="1.3" fill="#00008b"/>
<rect x="532.4" y="506.4" width="1.3" height="1.3" fill="#00008b"/>
<rect x="537.4" y="503.4" width="1.3" height="1.3" fill="#00008b"/>
<rect x="555.4" y="487.4" width="1.3" height="1.3" fill="#00008b"/>
<rect x="554.4" y="519.4" width="1.3" height="1.3" fill="#00008b"/>
<rect x="559.4" y="503.4" width="1.3" height="1.3" fill="#00008b"/>
<rect x="501.8" y="528.4" width="1.3" height="1.3" fill="#00008b"/>
<rect x="509.4" y="531.4" width="1.3" height="1.3" fill="#00008b"/>
<rect x="533" y="507.4" width="1.3" height="1.3" fill="#00008b"/>
<rect x="461.4" y="563" width="1.3" height="1.3" fill="#00008b"/>
<rect x="468.4" y="564.4" width="1.3" height="1.3" fill="#00008b"/>
<rect x="473.4" y="565.4" width="1.3" height="1.3" fill="#00008b"/>
<rect x="462.4" y="568.4" width="1.3" height="1.3" fill="#00008b"/>
<rect x="464.4" y="570.4" width="1.3" height="1.3" fill="#00008b"/>
<rect x="471.4" y="568.4" width="1.3" height="1.3" fill="#00008b"/>
<rect x="472.4" y="570.4" width="1.3" height="1.3" fill="#00008b"/>
<rect x="467.4" y="575.4" width="1.3" height="1.3" fill="#00008b"/>
<rect x="459.4" y="574.4" width="1.3" height="1.3" fill="#00008b"/>
<rect x="469.4" y="571.4" width="1.3" height="1.3" fill="#00008b"/>
<rect x="463" y="569.4" width="1.3" height="1.3" fill="#00008b"/>
<rect x="468.8" y="565.4" width="1.3" height="1.3" fill="#00008b"/>
<rect x="501.4" y="527.4" width="1.3" height="1.3" fill="#00008b"/>
<rect x="501.8" y="528.4" width="1.3" height="1.3" fill="#00008b"/>
<rect x="508.8" y="530.8" width="1.3" height="1.3" fill="#00008b"/>
<rect x="475" y="541.4" width="1.3" height="1.3" fill="#00008b"/>
<rect x="482.6" y="544" width="1.3" height="1.3" fill="#00008b"/>
<rect x="507.8" y="569.4" width="1.3" height="1.3" fill="#00008b"/>
<rect x="517.4" y="580.4" width="1.3" height="1.3" fill="#00008b"/>
<rect x="440.4" y="528" width="1.3" height="1.3" fill="#00008b"/>
<rect x="531.4" y="506.4" width="1.3" height="1.3" fill="#00008b"/>
<rect x="533.4" y="504.4" width="1.3" height="1.3" fill="#00008b"/>
<rect x="532.4" y="508.4" width="1.3" height="1.3" fill="#00008b"/>
<rect x="550.4" y="518.4" width="1.3" height="1.3" fill="#00008b"/>
<rect x="551.4" y="513.4" width="1.3" height="1.3" fill="#00008b"/>
<rect x="557.4" y="441.15" width="1.3" height="1.3" fill="#00008b"/>
<rect x="559.28" y="441.9" width="1.3" height="1.3" fill="#00008b"/>
<rect x="558.15" y="444.15" width="1.3" height="1.3" fill="#00008b"/>
<rect x="556.65" y="447.9" width="1.3" height="1.3" fill="#00008b"/>
<rect x="558.53" y="449.03" width="1.3" height="1.3" fill="#00008b"/>
<rect x="554.4" y="451.65" width="1.3" height="1.3" fill="#00008b"/>
<rect x="553.65" y="454.65" width="1.3" height="1.3" fill="#00008b"/>
<rect x="551.4" y="456.9" width="1.3" height="1.3" fill="#00008b"/>
<rect x="555.9" y="449.4" width="1.3" height="1.3" fill="#00008b"/>
<text x="627.5" y="565.2" font-size="5" font-weight="bold" textLength="32" lengthAdjust="spacingAndGlyphs">South China</text>
<text x="627.5" y="571.4" font-size="5" font-weight="bold" textLength="30" lengthAdjust="spacingAndGlyphs">Sea Islands</text>
<text x="627.5" y="577.6" font-size="5" font-weight="bold" textLength="47.5" lengthAdjust="spacingAndGlyphs">Scale 1:28 000 000</text>
<rect x="119.6" y="217.6" width="560.6999999999999" height="364.5" fill="none" stroke="#000" stroke-width="1.3"/>
<path d="M182.20,217.6 V205.1 M182.20,582.1 V594.6 M271.08,217.6 V205.1 M271.08,582.1 V594.6 M359.96,217.6 V205.1 M359.96,582.1 V594.6 M448.84,217.6 V205.1 M448.84,582.1 V594.6 M537.72,217.6 V205.1 M537.72,582.1 V594.6 M626.60,217.6 V205.1 M626.60,582.1 V594.6 M119.6,537.74 H107.1 M680.3,537.74 H692.8 M119.6,448.86 H107.1 M680.3,448.86 H692.8 M119.6,359.98 H107.1 M680.3,359.98 H692.8 M119.6,271.10 H107.1 M680.3,271.10 H692.8 M119.6,582.18 H113.39999999999999 M680.3,582.18 H686.5 M119.6,493.30 H113.39999999999999 M680.3,493.30 H686.5 M119.6,404.42 H113.39999999999999 M680.3,404.42 H686.5 M119.6,315.54 H113.39999999999999 M680.3,315.54 H686.5 M119.6,226.66 H113.39999999999999 M680.3,226.66 H686.5" stroke="#000" stroke-width="1.3" fill="none"/>
<text x="182.20" y="618.8" font-size="16.6" text-anchor="middle">80E</text>
<text x="271.08" y="618.8" font-size="16.6" text-anchor="middle">90E</text>
<text x="359.96" y="618.8" font-size="16.6" text-anchor="middle">100E</text>
<text x="448.84" y="618.8" font-size="16.6" text-anchor="middle">110E</text>
<text x="537.72" y="618.8" font-size="16.6" text-anchor="middle">120E</text>
<text x="626.60" y="618.8" font-size="16.6" text-anchor="middle">130E</text>
<text x="96.5" y="543.64" font-size="16.6" text-anchor="end">20N</text>
<text x="96.5" y="454.76" font-size="16.6" text-anchor="end">30N</text>
<text x="96.5" y="365.88" font-size="16.6" text-anchor="end">40N</text>
<text x="96.5" y="277.00" font-size="16.6" text-anchor="end">50N</text>
<text x="119" y="148" font-size="16.6" textLength="251" lengthAdjust="spacingAndGlyphs">Probability of 2-m Air Temperature</text>
<text x="119" y="172" font-size="16.6" textLength="218.5" lengthAdjust="spacingAndGlyphs">CMA-CPSv3 monthly forecast</text>
<text x="119" y="195.8" font-size="16.6" textLength="155.3" lengthAdjust="spacingAndGlyphs">Initial date: 20251001</text>
<text x="680.5" y="148" font-size="16.6" text-anchor="end">Dates: 202510</text>
<text x="680.5" y="172" font-size="16.6" text-anchor="end" textLength="143.5" lengthAdjust="spacingAndGlyphs">Ensemble Size = 21</text>
<text x="680.5" y="195.8" font-size="16.6" text-anchor="end">Units: %</text>
<text x="125.5" y="576.6" font-size="8.6" font-weight="bold" textLength="76.5" lengthAdjust="spacingAndGlyphs">Scale 1:14 000 000</text>
<text x="337" y="630" font-size="11" textLength="125.4" lengthAdjust="spacingAndGlyphs" stroke="#000" stroke-width="0.25">Copyright © CEMC, CMA</text>
<rect x="259.3" y="640.8" width="56.10" height="18.70" fill="#00bfff" stroke="#000" stroke-width="0.7"/>
<rect x="315.4" y="640.8" width="56.10" height="18.70" fill="#a0d2ff" stroke="#000" stroke-width="0.7"/>
<rect x="371.5" y="640.8" width="56.20" height="18.70" fill="#ffffff" stroke="#000" stroke-width="0.7"/>
<rect x="427.7" y="640.8" width="56.30" height="18.70" fill="#ffe632" stroke="#000" stroke-width="0.7"/>
<rect x="484.0" y="640.8" width="56.30" height="18.70" fill="#ffa500" stroke="#000" stroke-width="0.7"/>
<path d="M259.3,640.8 L203.2,650.15 L259.3,659.5Z" fill="#4169e1" stroke="#000" stroke-width="0.7" stroke-linejoin="miter"/>
<path d="M540.3,640.8 L596.6,650.15 L540.3,659.5Z" fill="#ff6e00" stroke="#000" stroke-width="0.7" stroke-linejoin="miter"/>
<text x="231.2" y="674.6" font-size="13.2" text-anchor="middle">60..100</text>
<text x="287.4" y="674.6" font-size="13.2" text-anchor="middle">50..60</text>
<text x="343.5" y="674.6" font-size="13.2" text-anchor="middle">40..50</text>
<text x="399.6" y="674.6" font-size="13.2" text-anchor="middle">Normal</text>
<text x="456" y="674.6" font-size="13.2" text-anchor="middle">40..50</text>
<text x="512" y="674.6" font-size="13.2" text-anchor="middle">50..60</text>
<text x="568.5" y="674.6" font-size="13.2" text-anchor="middle">60..100</text>
<text x="261.2" y="694.7" font-size="16.1" text-anchor="middle">Below</text>
<text x="577.4" y="694.7" font-size="16.1" text-anchor="middle">Above</text>
</svg>
</body></html>
